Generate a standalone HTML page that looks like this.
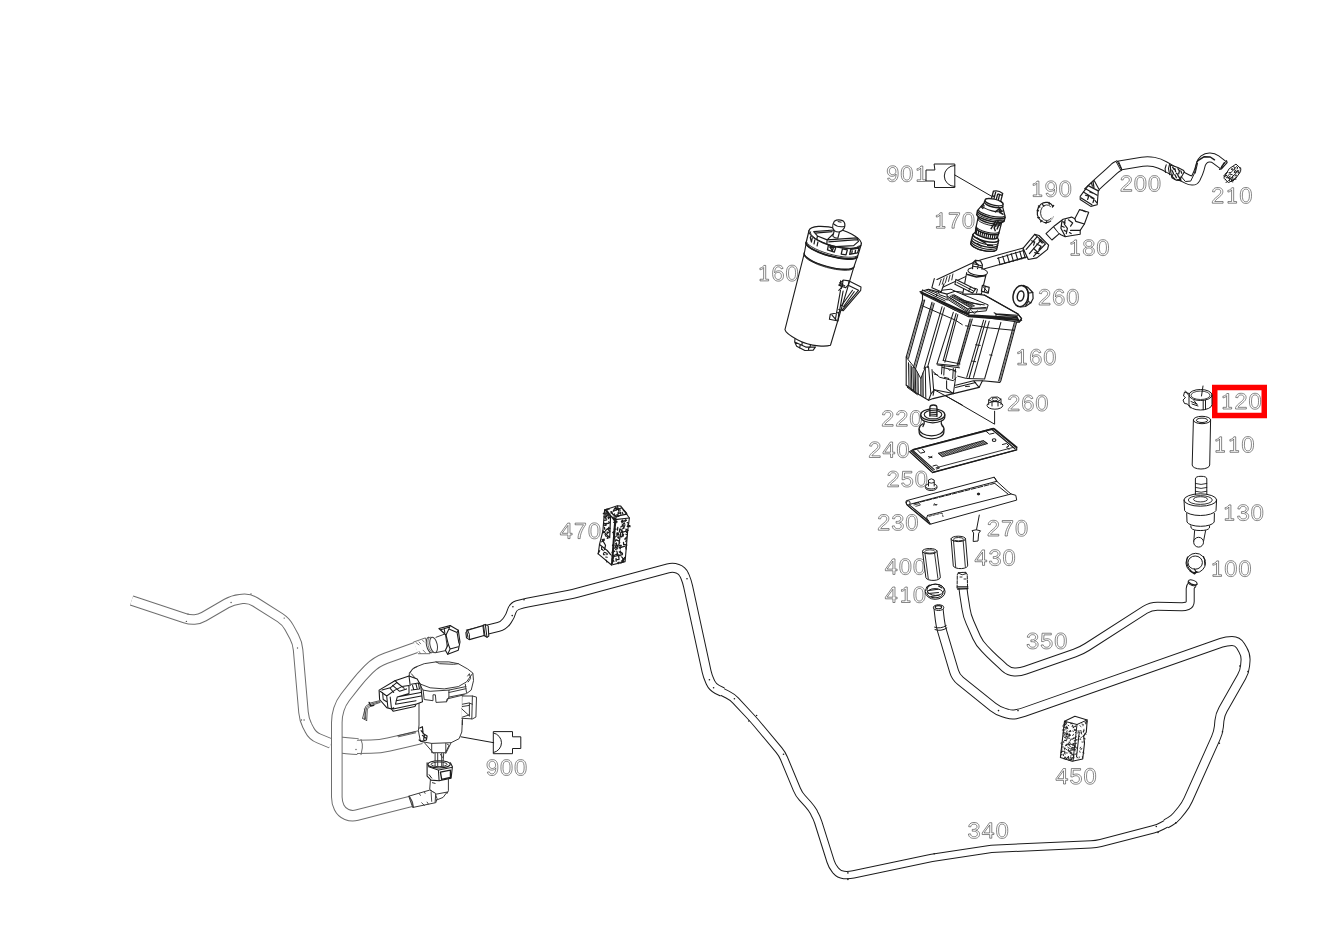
<!DOCTYPE html>
<html><head><meta charset="utf-8"><title>diagram</title>
<style>
html,body{margin:0;padding:0;background:#fff;}
body{width:1326px;height:937px;overflow:hidden;font-family:"Liberation Serif",serif;}
svg{display:block}
.lb{fill:none;stroke:#363636;stroke-width:0.6;vector-effect:non-scaling-stroke;}
</style></head><body>
<svg width="1326" height="937" viewBox="0 0 1326 937">
<rect x="0" y="0" width="1326" height="937" fill="#fff"/>
<defs><path id="g0" d="M1101 -593L1085 -444L1072 -377L1033 -258L978 -158L946 -117L868 -50L777 -5L725 9L611 20L497 9L446 -5L355 -49L278 -116L217 -204L172 -313L154 -376L132 -515L126 -760L141 -912L170 -1042L191 -1100L243 -1197L275 -1238L351 -1302L396 -1327L498 -1359L617 -1370L733 -1359L785 -1345L877 -1302L917 -1272L984 -1196L1012 -1149L1057 -1041L1073 -978L1096 -837ZM919 -745L910 -870L880 -1020L850 -1094L830 -1125L784 -1173L756 -1192L692 -1216L656 -1222L577 -1222L540 -1216L474 -1192L446 -1174L398 -1126L362 -1061L324 -927L311 -811L307 -606L316 -483L347 -334L380 -258L399 -228L447 -178L475 -160L538 -135L574 -129L651 -129L720 -146L751 -161L804 -203L846 -262L891 -383L915 -545Z" class="lb"/><path id="g1" d="M280 0L280 -145L596 -145L596 -1166L578 -1128L551 -1093L493 -1045L395 -995L322 -976L273 -972L273 -1120L326 -1124L377 -1136L475 -1185L556 -1258L611 -1349L777 -1349L777 -145L1031 -145L1031 0Z" class="lb"/><path id="g2" d="M144 0L144 -117L172 -172L227 -254L296 -336L385 -424L652 -650L766 -761L838 -857L860 -902L876 -969L876 -1018L867 -1067L850 -1110L824 -1146L790 -1176L748 -1199L699 -1214L642 -1221L583 -1221L532 -1213L485 -1198L445 -1174L395 -1125L370 -1084L353 -1037L343 -984L159 -1001L175 -1082L223 -1186L298 -1270L362 -1314L436 -1345L519 -1364L663 -1368L758 -1356L841 -1332L912 -1296L971 -1249L1016 -1191L1032 -1158L1055 -1085L1062 -1002L1057 -945L1043 -887L1019 -830L966 -744L891 -657L796 -568L585 -396L474 -296L406 -220L361 -146L1084 -146L1084 0Z" class="lb"/><path id="g3" d="M1093 -430L1097 -325L1081 -242L1068 -205L1028 -138L1003 -109L940 -58L904 -37L822 -6L676 18L569 18L473 6L387 -18L312 -54L249 -103L222 -131L198 -163L160 -234L128 -362L314 -379L327 -320L347 -270L374 -227L409 -192L451 -164L500 -145L557 -133L621 -129L685 -133L742 -145L792 -164L834 -192L868 -227L893 -270L907 -319L912 -376L906 -429L886 -475L855 -515L797 -558L743 -582L660 -602L592 -609L466 -609L466 -765L606 -767L703 -787L785 -828L844 -887L865 -931L875 -997L866 -1070L838 -1130L791 -1176L726 -1207L643 -1221L582 -1221L528 -1213L458 -1188L418 -1161L386 -1127L351 -1065L333 -989L152 -1003L182 -1122L217 -1190L266 -1248L362 -1315L437 -1346L520 -1364L613 -1370L713 -1364L801 -1347L878 -1317L912 -1298L970 -1252L1014 -1196L1031 -1165L1053 -1095L1059 -987L1040 -905L1000 -831L938 -769L860 -722L765 -689L837 -676L901 -654L958 -623L1008 -583L1048 -536L1076 -485Z" class="lb"/><path id="g4" d="M937 0L757 0L757 -319L103 -319L103 -459L738 -1349L937 -1349L937 -461L1125 -461L1125 -319L937 -319ZM257 -461L757 -461L757 -1154Z" class="lb"/><path id="g5" d="M1099 -444L1084 -314L1054 -227L1024 -174L988 -128L921 -69L868 -38L808 -12L744 6L637 19L551 19L462 8L346 -28L281 -66L226 -114L165 -204L128 -315L310 -336L350 -245L378 -209L412 -179L451 -156L547 -130L603 -127L670 -132L757 -160L806 -191L848 -233L891 -310L907 -371L912 -440L900 -527L865 -601L829 -643L784 -678L703 -711L607 -722L536 -716L440 -686L345 -621L169 -621L216 -1349L1017 -1349L1017 -1204L382 -1204L353 -779L449 -834L522 -856L601 -868L741 -862L786 -852L868 -823L906 -803L974 -752L1003 -721L1050 -653L1081 -576L1091 -534Z" class="lb"/><path id="g6" d="M1094 -394L1079 -299L1066 -255L1028 -176L974 -107L943 -77L908 -51L830 -12L787 2L693 18L584 17L530 9L432 -23L389 -47L311 -112L278 -152L222 -248L183 -361L169 -425L153 -565L153 -727L170 -881L203 -1015L252 -1130L318 -1225L356 -1263L397 -1296L490 -1343L542 -1358L655 -1370L731 -1366L800 -1352L861 -1330L915 -1298L962 -1258L1001 -1209L1033 -1150L1057 -1083L885 -1052L870 -1092L828 -1157L770 -1200L696 -1221L653 -1224L581 -1215L548 -1204L488 -1170L462 -1146L415 -1085L363 -965L342 -868L330 -695L357 -738L407 -792L468 -834L538 -862L589 -874L672 -881L763 -874L845 -851L882 -835L950 -790L1007 -732L1051 -662L1067 -624L1089 -540ZM912 -473L894 -566L870 -618L836 -662L795 -697L746 -722L691 -737L629 -742L575 -737L522 -723L473 -700L430 -668L395 -630L369 -585L353 -535L348 -481L353 -408L368 -342L393 -281L428 -227L472 -182L520 -150L575 -131L635 -125L695 -130L749 -146L797 -172L855 -231L884 -281L902 -338L912 -403Z" class="lb"/><path id="g7" d="M1069 -1210L958 -1042L862 -879L781 -721L714 -568L663 -419L626 -274L603 -135L596 0L408 0L416 -134L439 -273L477 -418L530 -568L599 -721L683 -879L781 -1040L895 -1204L158 -1204L158 -1349L1069 -1349Z" class="lb"/><path id="g8" d="M1086 -291L1076 -251L1045 -178L1024 -145L970 -87L937 -62L861 -22L818 -7L723 13L559 18L413 -6L370 -21L294 -60L231 -113L205 -143L165 -210L141 -288L134 -408L153 -495L193 -572L254 -636L328 -681L414 -707L336 -740L271 -785L234 -825L204 -870L176 -944L166 -1024L180 -1118L222 -1202L288 -1273L378 -1326L458 -1353L546 -1367L676 -1367L768 -1353L849 -1326L919 -1287L991 -1221L1038 -1140L1056 -1071L1058 -994L1042 -916L1006 -844L953 -783L887 -739L809 -709L871 -694L926 -671L974 -640L1035 -577L1064 -527L1089 -442L1094 -378ZM902 -452L888 -501L863 -544L829 -580L786 -608L735 -628L677 -640L577 -643L516 -634L463 -617L417 -591L378 -556L349 -516L330 -470L320 -419L320 -358L330 -299L348 -247L377 -204L414 -169L461 -143L516 -125L581 -116L685 -119L744 -132L794 -154L835 -184L879 -246L902 -329L907 -395ZM871 -1039L863 -1088L846 -1129L820 -1165L787 -1193L746 -1214L697 -1228L641 -1235L552 -1232L501 -1222L456 -1204L418 -1179L389 -1147L367 -1109L354 -1064L350 -1012L354 -960L367 -914L389 -874L419 -840L457 -813L502 -794L553 -783L673 -783L726 -794L770 -812L807 -837L835 -870L856 -910L868 -957Z" class="lb"/><path id="g9" d="M1085 -619L1068 -466L1054 -396L1012 -273L985 -218L919 -124L839 -54L744 -7L692 8L577 20L499 16L428 3L366 -19L312 -50L266 -90L227 -140L195 -202L170 -274L342 -301L358 -260L401 -194L428 -169L496 -136L536 -128L617 -127L653 -134L717 -160L746 -179L798 -232L858 -341L896 -480L909 -650L871 -587L817 -535L722 -482L643 -459L559 -451L469 -459L389 -483L317 -523L256 -578L205 -647L170 -725L148 -813L141 -911L149 -1011L172 -1101L212 -1179L266 -1246L335 -1301L415 -1339L507 -1362L610 -1370L722 -1360L819 -1328L901 -1276L968 -1203L1020 -1109L1057 -995L1080 -859ZM890 -901L871 -1008L846 -1069L811 -1124L744 -1185L693 -1210L635 -1222L572 -1223L514 -1212L463 -1190L419 -1157L381 -1114L353 -1064L335 -1008L325 -945L325 -876L335 -812L353 -754L381 -703L419 -660L463 -627L513 -605L571 -594L639 -595L694 -606L762 -637L806 -669L852 -724L876 -772L889 -824Z" class="lb"/></defs>
<path d="M131.6,600.5 L185.0,618.2 Q189.7,619.8 194.6,619.5 L194.6,619.5 Q199.6,619.1 203.9,616.6 L226.7,603.4 Q232.8,599.9 239.8,599.2 L242.4,598.9 Q249.4,598.2 255.3,602.0 L280.0,617.6 Q285.9,621.4 289.2,627.6 L294.2,636.8 Q297.5,643.0 298.1,650.0 L303.5,712.3 Q304.1,719.3 307.2,725.6 L309.3,729.6 Q312.4,735.9 318.9,738.5 L331.0,743.5" fill="none" stroke="#6e6e6e" stroke-width="10.5" stroke-linejoin="round"/>
<path d="M131.6,600.5 L185.0,618.2 Q189.7,619.8 194.6,619.5 L194.6,619.5 Q199.6,619.1 203.9,616.6 L226.7,603.4 Q232.8,599.9 239.8,599.2 L242.4,598.9 Q249.4,598.2 255.3,602.0 L280.0,617.6 Q285.9,621.4 289.2,627.6 L294.2,636.8 Q297.5,643.0 298.1,650.0 L303.5,712.3 Q304.1,719.3 307.2,725.6 L309.3,729.6 Q312.4,735.9 318.9,738.5 L331.0,743.5" fill="none" stroke="#fff" stroke-width="8.5" stroke-linejoin="round"/>
<path d="M337.0,744.6 L347.0,745.7 Q350.0,746.0 353.0,746.2 L358.0,746.6" fill="none" stroke="#6e6e6e" stroke-width="17" stroke-linejoin="round"/>
<path d="M337.0,744.6 L347.0,745.7 Q350.0,746.0 353.0,746.2 L358.0,746.6" fill="none" stroke="#fff" stroke-width="15.0" stroke-linejoin="round"/>
<path d="M357.0,746.8 L371.0,746.7 Q380.0,746.6 388.8,744.5 L388.8,744.5 Q397.5,742.5 406.3,740.5 L421.0,737.0" fill="none" stroke="#6e6e6e" stroke-width="14.3" stroke-linejoin="round"/>
<path d="M357.0,746.8 L371.0,746.7 Q380.0,746.6 388.8,744.5 L388.8,744.5 Q397.5,742.5 406.3,740.5 L421.0,737.0" fill="none" stroke="#fff" stroke-width="12.3" stroke-linejoin="round"/>
<path d="M416.0,647.5 L385.9,658.2 Q376.5,661.5 369.4,668.6 L368.1,669.9 Q361.0,677.0 354.9,684.9 L345.2,697.3 Q341.0,702.7 338.9,709.2 L338.9,709.2 Q336.8,715.7 336.8,722.5 L336.8,796.9 Q336.8,802.5 339.2,807.5 L339.3,807.6 Q341.7,812.5 346.7,814.5 L346.7,814.5 Q351.7,816.6 356.9,815.2 L411.0,801.3" fill="none" stroke="#6e6e6e" stroke-width="11.6" stroke-linejoin="round"/>
<path d="M416.0,647.5 L385.9,658.2 Q376.5,661.5 369.4,668.6 L368.1,669.9 Q361.0,677.0 354.9,684.9 L345.2,697.3 Q341.0,702.7 338.9,709.2 L338.9,709.2 Q336.8,715.7 336.8,722.5 L336.8,796.9 Q336.8,802.5 339.2,807.5 L339.3,807.6 Q341.7,812.5 346.7,814.5 L346.7,814.5 Q351.7,816.6 356.9,815.2 L411.0,801.3" fill="none" stroke="#fff" stroke-width="9.6" stroke-linejoin="round"/>
<path d="M1166.0,823.8 L1170.0,821.6 Q1174.0,819.4 1176.9,815.9 L1181.9,809.8 Q1185.7,805.2 1188.2,799.7 L1215.8,738.0 Q1218.3,732.5 1218.9,726.5 L1219.4,720.8 Q1220.0,714.8 1223.0,709.6 L1241.6,676.8 Q1244.6,671.6 1245.1,665.6 L1245.5,660.9 Q1246.0,654.9 1242.9,649.8 L1240.5,645.7 Q1237.6,640.9 1232.0,640.9 L1232.0,640.9 Q1226.5,640.9 1221.3,642.7 L1024.0,712.1 Q1020.0,713.5 1015.8,714.2 L1015.8,714.2 Q1011.6,714.9 1007.5,713.7 L1003.4,712.4 Q997.7,710.7 993.0,707.0 L960.5,680.9 Q955.8,677.2 954.1,671.4 L942.2,631.4 Q940.5,625.6 939.8,619.6 L938.2,606.0" fill="none" stroke="#1c1c1c" stroke-width="10" stroke-linejoin="round"/>
<path d="M467.0,634.6 L498.5,626.9 Q503.4,625.7 506.3,621.7 L507.4,620.2 Q510.3,616.2 511.6,611.5 L511.6,611.5 Q512.9,606.7 517.6,605.1 L517.7,605.1 Q522.4,603.5 527.3,602.6 L568.1,594.9 Q573.0,594.0 577.8,592.7 L668.0,568.4 Q672.8,567.1 677.5,568.7 L677.6,568.7 Q682.3,570.3 684.2,574.9 L685.1,576.8 Q687.0,581.4 688.1,586.3 L706.6,671.5 Q707.7,676.4 709.8,680.9 L710.6,682.7 Q712.7,687.2 717.2,689.4 L722.5,692.0" fill="none" stroke="#1c1c1c" stroke-width="10" stroke-linejoin="round"/>
<path d="M719.8,690.7 L727.7,694.7 Q732.2,696.9 735.6,700.5 L749.6,715.5 Q753.0,719.1 756.2,722.9 L778.9,750.0 Q782.1,753.8 784.0,758.4 L796.9,789.4 Q798.8,794.0 802.1,797.7 L808.0,804.2 Q811.3,807.9 813.8,812.2 L814.3,813.3 Q816.8,817.6 818.3,822.4 L830.6,861.4 Q832.1,866.2 835.3,870.0 L835.9,870.8 Q839.0,874.5 843.9,875.0 L843.9,875.0 Q848.7,875.4 853.5,874.4 L927.1,858.9 Q932.0,857.9 936.9,857.1 L986.5,849.6 Q991.4,848.8 996.4,848.6 L1091.0,844.4 Q1096.0,844.2 1100.8,843.0 L1153.2,829.4 Q1158.0,828.2 1162.4,825.8 L1168.6,822.4" fill="none" stroke="#1c1c1c" stroke-width="8.4" stroke-linejoin="round"/>
<path d="M1166.0,823.8 L1170.0,821.6 Q1174.0,819.4 1176.9,815.9 L1181.9,809.8 Q1185.7,805.2 1188.2,799.7 L1215.8,738.0 Q1218.3,732.5 1218.9,726.5 L1219.4,720.8 Q1220.0,714.8 1223.0,709.6 L1241.6,676.8 Q1244.6,671.6 1245.1,665.6 L1245.5,660.9 Q1246.0,654.9 1242.9,649.8 L1240.5,645.7 Q1237.6,640.9 1232.0,640.9 L1232.0,640.9 Q1226.5,640.9 1221.3,642.7 L1024.0,712.1 Q1020.0,713.5 1015.8,714.2 L1015.8,714.2 Q1011.6,714.9 1007.5,713.7 L1003.4,712.4 Q997.7,710.7 993.0,707.0 L960.5,680.9 Q955.8,677.2 954.1,671.4 L942.2,631.4 Q940.5,625.6 939.8,619.6 L938.2,606.0" fill="none" stroke="#fff" stroke-width="8.0" stroke-linejoin="round"/>
<path d="M467.0,634.6 L498.5,626.9 Q503.4,625.7 506.3,621.7 L507.4,620.2 Q510.3,616.2 511.6,611.5 L511.6,611.5 Q512.9,606.7 517.6,605.1 L517.7,605.1 Q522.4,603.5 527.3,602.6 L568.1,594.9 Q573.0,594.0 577.8,592.7 L668.0,568.4 Q672.8,567.1 677.5,568.7 L677.6,568.7 Q682.3,570.3 684.2,574.9 L685.1,576.8 Q687.0,581.4 688.1,586.3 L706.6,671.5 Q707.7,676.4 709.8,680.9 L710.6,682.7 Q712.7,687.2 717.2,689.4 L722.5,692.0" fill="none" stroke="#fff" stroke-width="8.0" stroke-linejoin="round"/>
<path d="M719.8,690.7 L727.7,694.7 Q732.2,696.9 735.6,700.5 L749.6,715.5 Q753.0,719.1 756.2,722.9 L778.9,750.0 Q782.1,753.8 784.0,758.4 L796.9,789.4 Q798.8,794.0 802.1,797.7 L808.0,804.2 Q811.3,807.9 813.8,812.2 L814.3,813.3 Q816.8,817.6 818.3,822.4 L830.6,861.4 Q832.1,866.2 835.3,870.0 L835.9,870.8 Q839.0,874.5 843.9,875.0 L843.9,875.0 Q848.7,875.4 853.5,874.4 L927.1,858.9 Q932.0,857.9 936.9,857.1 L986.5,849.6 Q991.4,848.8 996.4,848.6 L1091.0,844.4 Q1096.0,844.2 1100.8,843.0 L1153.2,829.4 Q1158.0,828.2 1162.4,825.8 L1168.6,822.4" fill="none" stroke="#fff" stroke-width="6.4" stroke-linejoin="round"/>
<path d="M962.0,572.5 L962.4,581.0 Q962.8,588.0 963.8,594.9 L966.0,608.9 Q967.0,615.8 969.9,622.2 L976.6,637.3 Q979.5,643.7 984.5,648.6 L989.9,654.1 Q994.9,659.0 1000.1,663.7 L1004.6,667.8 Q1008.8,671.6 1014.4,671.9 L1014.4,671.9 Q1020.0,672.2 1025.3,670.3 L1074.8,653.0 Q1081.4,650.7 1087.3,646.9 L1145.1,609.8 Q1151.0,606.0 1158.0,606.2 L1181.6,606.8 Q1184.6,606.9 1187.4,605.8 L1187.4,605.8 Q1190.2,604.6 1190.2,601.6 L1190.2,588.5 Q1190.2,586.5 1191.6,585.1 L1193.0,583.7" fill="none" stroke="#1c1c1c" stroke-width="9" stroke-linejoin="round"/>
<path d="M962.0,572.5 L962.4,581.0 Q962.8,588.0 963.8,594.9 L966.0,608.9 Q967.0,615.8 969.9,622.2 L976.6,637.3 Q979.5,643.7 984.5,648.6 L989.9,654.1 Q994.9,659.0 1000.1,663.7 L1004.6,667.8 Q1008.8,671.6 1014.4,671.9 L1014.4,671.9 Q1020.0,672.2 1025.3,670.3 L1074.8,653.0 Q1081.4,650.7 1087.3,646.9 L1145.1,609.8 Q1151.0,606.0 1158.0,606.2 L1181.6,606.8 Q1184.6,606.9 1187.4,605.8 L1187.4,605.8 Q1190.2,604.6 1190.2,601.6 L1190.2,588.5 Q1190.2,586.5 1191.6,585.1 L1193.0,583.7" fill="none" stroke="#fff" stroke-width="7.0" stroke-linejoin="round"/>
<path d="M958.0,572.7 L966.0,572.3" stroke="#1c1c1c" stroke-width="1.0" fill="none"/>
<path d="M1190.2,580.9 L1195.8,586.5" stroke="#1c1c1c" stroke-width="1.0" fill="none"/>
<path d="M1180.5,175.6 L1187.7,179.3 Q1189.8,180.4 1192.2,180.5 L1192.2,180.5 Q1194.6,180.6 1195.7,178.5 L1196.4,176.9 Q1198.3,173.2 1199.5,169.2 L1200.8,164.5 Q1201.7,161.5 1204.1,159.4 L1204.1,159.4 Q1206.5,157.4 1209.7,157.5 L1209.9,157.5 Q1213.3,157.6 1216.0,159.6 L1223.1,165.0" fill="none" stroke="#1c1c1c" stroke-width="10.2" stroke-linejoin="round"/>
<path d="M1180.5,175.6 L1187.7,179.3 Q1189.8,180.4 1192.2,180.5 L1192.2,180.5 Q1194.6,180.6 1195.7,178.5 L1196.4,176.9 Q1198.3,173.2 1199.5,169.2 L1200.8,164.5 Q1201.7,161.5 1204.1,159.4 L1204.1,159.4 Q1206.5,157.4 1209.7,157.5 L1209.9,157.5 Q1213.3,157.6 1216.0,159.6 L1223.1,165.0" fill="none" stroke="#fff" stroke-width="8.2" stroke-linejoin="round"/>
<path d="M1225.9,161.3 L1220.3,168.7" stroke="#1c1c1c" stroke-width="1.0" fill="none"/>
<path d="M1118.0,165.7 L1142.2,161.7 Q1148.0,160.8 1153.8,161.9 L1153.8,161.9 Q1159.5,163.1 1164.6,166.0 L1171.1,169.6 Q1174.5,171.5 1177.8,173.8 L1181.0,176.0" fill="none" stroke="#1c1c1c" stroke-width="10.2" stroke-linejoin="round"/>
<path d="M1118.0,165.7 L1142.2,161.7 Q1148.0,160.8 1153.8,161.9 L1153.8,161.9 Q1159.5,163.1 1164.6,166.0 L1171.1,169.6 Q1174.5,171.5 1177.8,173.8 L1181.0,176.0" fill="none" stroke="#fff" stroke-width="8.2" stroke-linejoin="round"/>
<path d="M1088.0,193.0 L1093.3,187.9 Q1097.3,184.0 1101.5,180.2 L1101.5,180.2 Q1105.7,176.5 1109.9,172.7 L1114.5,168.5 Q1116.0,167.2 1117.8,166.3 L1119.5,165.4" fill="none" stroke="#1c1c1c" stroke-width="11.6" stroke-linejoin="round"/>
<path d="M1088.0,193.0 L1093.3,187.9 Q1097.3,184.0 1101.5,180.2 L1101.5,180.2 Q1105.7,176.5 1109.9,172.7 L1114.5,168.5 Q1116.0,167.2 1117.8,166.3 L1119.5,165.4" fill="none" stroke="#fff" stroke-width="9.6" stroke-linejoin="round"/>
<path d="M1117.1,160.7 L1121.9,170.1" stroke="#1c1c1c" stroke-width="1.0" fill="none"/>
<rect x="1214.75" y="387.5" width="49.5" height="28" fill="#fff" stroke="#ff0000" stroke-width="5.5"/>
<use href="#g9" transform="translate(885.68 181.50) scale(0.011475)"/>
<use href="#g0" transform="translate(899.78 181.50) scale(0.011475)"/>
<use href="#g1" transform="translate(913.88 181.50) scale(0.011475)"/>
<use href="#g1" transform="translate(933.20 228.20) scale(0.011475)"/>
<use href="#g7" transform="translate(947.30 228.20) scale(0.011475)"/>
<use href="#g0" transform="translate(961.40 228.20) scale(0.011475)"/>
<use href="#g1" transform="translate(1030.00 196.60) scale(0.011475)"/>
<use href="#g9" transform="translate(1044.10 196.60) scale(0.011475)"/>
<use href="#g0" transform="translate(1058.20 196.60) scale(0.011475)"/>
<use href="#g2" transform="translate(1119.25 191.30) scale(0.011475)"/>
<use href="#g0" transform="translate(1133.35 191.30) scale(0.011475)"/>
<use href="#g0" transform="translate(1147.45 191.30) scale(0.011475)"/>
<use href="#g2" transform="translate(1210.65 203.20) scale(0.011475)"/>
<use href="#g1" transform="translate(1224.75 203.20) scale(0.011475)"/>
<use href="#g0" transform="translate(1238.85 203.20) scale(0.011475)"/>
<use href="#g1" transform="translate(1067.70 255.40) scale(0.011475)"/>
<use href="#g8" transform="translate(1081.80 255.40) scale(0.011475)"/>
<use href="#g0" transform="translate(1095.90 255.40) scale(0.011475)"/>
<use href="#g1" transform="translate(756.80 280.90) scale(0.011475)"/>
<use href="#g6" transform="translate(770.90 280.90) scale(0.011475)"/>
<use href="#g0" transform="translate(785.00 280.90) scale(0.011475)"/>
<use href="#g2" transform="translate(1037.55 305.00) scale(0.011475)"/>
<use href="#g6" transform="translate(1051.65 305.00) scale(0.011475)"/>
<use href="#g0" transform="translate(1065.75 305.00) scale(0.011475)"/>
<use href="#g1" transform="translate(1014.60 364.90) scale(0.011475)"/>
<use href="#g6" transform="translate(1028.70 364.90) scale(0.011475)"/>
<use href="#g0" transform="translate(1042.80 364.90) scale(0.011475)"/>
<use href="#g2" transform="translate(1006.65 410.80) scale(0.011475)"/>
<use href="#g6" transform="translate(1020.75 410.80) scale(0.011475)"/>
<use href="#g0" transform="translate(1034.85 410.80) scale(0.011475)"/>
<use href="#g2" transform="translate(880.65 426.20) scale(0.011475)"/>
<use href="#g2" transform="translate(894.75 426.20) scale(0.011475)"/>
<use href="#g0" transform="translate(908.85 426.20) scale(0.011475)"/>
<use href="#g2" transform="translate(867.75 457.50) scale(0.011475)"/>
<use href="#g4" transform="translate(881.85 457.50) scale(0.011475)"/>
<use href="#g0" transform="translate(895.95 457.50) scale(0.011475)"/>
<use href="#g2" transform="translate(886.05 486.80) scale(0.011475)"/>
<use href="#g5" transform="translate(900.15 486.80) scale(0.011475)"/>
<use href="#g0" transform="translate(914.25 486.80) scale(0.011475)"/>
<use href="#g2" transform="translate(876.65 530.20) scale(0.011475)"/>
<use href="#g3" transform="translate(890.75 530.20) scale(0.011475)"/>
<use href="#g0" transform="translate(904.85 530.20) scale(0.011475)"/>
<use href="#g2" transform="translate(986.35 536.00) scale(0.011475)"/>
<use href="#g7" transform="translate(1000.45 536.00) scale(0.011475)"/>
<use href="#g0" transform="translate(1014.55 536.00) scale(0.011475)"/>
<use href="#g4" transform="translate(973.82 565.40) scale(0.011475)"/>
<use href="#g3" transform="translate(987.92 565.40) scale(0.011475)"/>
<use href="#g0" transform="translate(1002.02 565.40) scale(0.011475)"/>
<use href="#g4" transform="translate(884.22 574.40) scale(0.011475)"/>
<use href="#g0" transform="translate(898.32 574.40) scale(0.011475)"/>
<use href="#g0" transform="translate(912.42 574.40) scale(0.011475)"/>
<use href="#g4" transform="translate(884.22 602.50) scale(0.011475)"/>
<use href="#g1" transform="translate(898.32 602.50) scale(0.011475)"/>
<use href="#g0" transform="translate(912.42 602.50) scale(0.011475)"/>
<use href="#g1" transform="translate(1219.80 409.00) scale(0.011475)"/>
<use href="#g2" transform="translate(1233.90 409.00) scale(0.011475)"/>
<use href="#g0" transform="translate(1248.00 409.00) scale(0.011475)"/>
<use href="#g1" transform="translate(1212.70 452.30) scale(0.011475)"/>
<use href="#g1" transform="translate(1226.80 452.30) scale(0.011475)"/>
<use href="#g0" transform="translate(1240.90 452.30) scale(0.011475)"/>
<use href="#g1" transform="translate(1222.00 520.40) scale(0.011475)"/>
<use href="#g3" transform="translate(1236.10 520.40) scale(0.011475)"/>
<use href="#g0" transform="translate(1250.20 520.40) scale(0.011475)"/>
<use href="#g1" transform="translate(1209.70 576.40) scale(0.011475)"/>
<use href="#g0" transform="translate(1223.80 576.40) scale(0.011475)"/>
<use href="#g0" transform="translate(1237.90 576.40) scale(0.011475)"/>
<use href="#g3" transform="translate(1025.53 648.70) scale(0.011475)"/>
<use href="#g5" transform="translate(1039.63 648.70) scale(0.011475)"/>
<use href="#g0" transform="translate(1053.73 648.70) scale(0.011475)"/>
<use href="#g3" transform="translate(966.93 838.20) scale(0.011475)"/>
<use href="#g4" transform="translate(981.03 838.20) scale(0.011475)"/>
<use href="#g0" transform="translate(995.13 838.20) scale(0.011475)"/>
<use href="#g4" transform="translate(1054.82 784.00) scale(0.011475)"/>
<use href="#g5" transform="translate(1068.92 784.00) scale(0.011475)"/>
<use href="#g0" transform="translate(1083.02 784.00) scale(0.011475)"/>
<use href="#g4" transform="translate(559.22 538.60) scale(0.011475)"/>
<use href="#g7" transform="translate(573.32 538.60) scale(0.011475)"/>
<use href="#g0" transform="translate(587.42 538.60) scale(0.011475)"/>
<use href="#g9" transform="translate(485.38 775.30) scale(0.011475)"/>
<use href="#g0" transform="translate(499.48 775.30) scale(0.011475)"/>
<use href="#g0" transform="translate(513.58 775.30) scale(0.011475)"/>
<ellipse cx="1200.5" cy="395" rx="11.5" ry="5.5" fill="none" stroke="#1c1c1c" stroke-width="1.0"/>
<ellipse cx="1200.5" cy="395.3" rx="9.5" ry="4.2" fill="none" stroke="#1c1c1c" stroke-width="0.8"/>
<path d="M1189,395 L1189,404.5 A11.5,5.5 0 0 0 1212,404.5 L1212,395" fill="none" stroke="#1c1c1c" stroke-width="1.0" stroke-linejoin="round" stroke-linecap="round" />
<path d="M1203.2,400.3 L1203.2,409.8 M1205.5,400.2 L1205.5,409.5 M1203,386 L1201.5,396" fill="none" stroke="#1c1c1c" stroke-width="1.0" stroke-linejoin="round" stroke-linecap="round" />
<path d="M1189,393.5 l-4.5,-1.5 l-1,4 l2,1.5 l-2.5,2.5 l1.5,3.5 l3,0.5 l3,4 M1185.5,391 l2.5,3.5 M1191,401.5 l6,2.5 M1192,404 l6,2 M1194,400.5 l3,4" fill="none" stroke="#1c1c1c" stroke-width="1.0" stroke-linejoin="round" stroke-linecap="round" />
<ellipse cx="1202" cy="420" rx="8.6" ry="3.7" fill="none" stroke="#1c1c1c" stroke-width="1.0"/>
<ellipse cx="1202" cy="420.3" rx="5.6" ry="2.2" fill="none" stroke="#1c1c1c" stroke-width="1.0"/>
<path d="M1193.4,420 L1192.2,465 A8.7,4 0 0 0 1209.7,465 L1210.6,420" fill="none" stroke="#1c1c1c" stroke-width="1.0" stroke-linejoin="round" stroke-linecap="round" />
<path d="M1195.4,494.5 L1195.4,479 Q1195.4,476.3 1201,476.3 Q1206.8,476.3 1206.8,479 L1206.8,494.5" fill="none" stroke="#1c1c1c" stroke-width="1.0" stroke-linejoin="round" stroke-linecap="round" />
<path d="M1195.4,483.5 q5.7,2 11.4,0 M1195.4,487.5 q5.7,2 11.4,0 M1195.4,491.3 q5.7,2 11.4,0" fill="none" stroke="#1c1c1c" stroke-width="0.9" stroke-linejoin="round" stroke-linecap="round" />
<ellipse cx="1200.3" cy="500" rx="16.3" ry="6.2" fill="none" stroke="#1c1c1c" stroke-width="1.0"/>
<ellipse cx="1200.3" cy="500" rx="12" ry="4.4" fill="none" stroke="#1c1c1c" stroke-width="0.9"/>
<ellipse cx="1200.5" cy="499.3" rx="7" ry="2.6" fill="none" stroke="#1c1c1c" stroke-width="0.9"/>
<path d="M1184,500 L1184.6,510.5 A16,6.2 0 0 0 1216,510.5 L1216.6,500" fill="none" stroke="#1c1c1c" stroke-width="1.0" stroke-linejoin="round" stroke-linecap="round" />
<path d="M1186.7,513.5 L1187,522 A13.8,5.2 0 0 0 1214.2,522 L1214.4,513.5" fill="none" stroke="#1c1c1c" stroke-width="1.0" stroke-linejoin="round" stroke-linecap="round" />
<path d="M1190.8,525.8 L1191.2,528 A9.3,3.2 0 0 0 1209.4,528 L1209.6,525.8" fill="none" stroke="#1c1c1c" stroke-width="1.0" stroke-linejoin="round" stroke-linecap="round" />
<path d="M1194.6,530.6 L1193.8,541.5 M1205.6,530.6 L1203.6,541" fill="none" stroke="#1c1c1c" stroke-width="1.0" stroke-linejoin="round" stroke-linecap="round" />
<ellipse cx="1198.6" cy="542.2" rx="4.9" ry="4.9" fill="#fff" stroke="#1c1c1c" stroke-width="1.0"/>
<ellipse cx="1195.7" cy="563" rx="9.7" ry="9.7" fill="none" stroke="#1c1c1c" stroke-width="1.0"/>
<ellipse cx="1195.2" cy="562.6" rx="7.2" ry="6.6" fill="none" stroke="#1c1c1c" stroke-width="1.0"/>
<path d="M1187.5,557 q-2,6 1.5,11.5 l4,4.5 l3,-1 l-1.5,-3 M1190,571 l4.5,3 l2.5,-2.5 M1203.5,556.5 l1.5,4 M1204.5,561 l0.5,4" fill="none" stroke="#1c1c1c" stroke-width="1.1" stroke-linejoin="round" stroke-linecap="round" />
<ellipse cx="1192.6" cy="582.8" rx="4.6" ry="2.6" fill="#fff" stroke="#1c1c1c" stroke-width="1.0" transform="rotate(20 1192.6 582.8)"/>
<path d="M1188.5,582 q4,4 8.5,2.2" fill="none" stroke="#1c1c1c" stroke-width="1.2" stroke-linejoin="round" stroke-linecap="round" />
<path d="M934.5,164 L954.8,164 L954.8,187.5 L934.5,187.5 L934.5,181 L926,181 L926,170 L934.5,170 Z" fill="none" stroke="#1c1c1c" stroke-width="1.0" stroke-linejoin="round" stroke-linecap="round" />
<path d="M954.8,165.5 A10.5,10.5 0 0 0 954.8,186.5" fill="none" stroke="#1c1c1c" stroke-width="1.0" stroke-linejoin="round" stroke-linecap="round" />
<path d="M954.8,175 L992,196.5" fill="none" stroke="#1c1c1c" stroke-width="1.0" stroke-linejoin="round" stroke-linecap="round" />
<path d="M493.7,731.6 L512.5,731.6 L512.5,736.8 L520.8,736.8 L520.8,748.5 L512.5,748.5 L512.5,753.7 L493.7,753.7 Z" fill="none" stroke="#1c1c1c" stroke-width="1.0" stroke-linejoin="round" stroke-linecap="round" />
<path d="M493.7,733 A10,10 0 0 1 493.7,752.5" fill="none" stroke="#1c1c1c" stroke-width="1.0" stroke-linejoin="round" stroke-linecap="round" />
<path d="M460.9,736.8 L493.7,742.7" fill="none" stroke="#1c1c1c" stroke-width="1.0" stroke-linejoin="round" stroke-linecap="round" />
<path d="M913.2,449.4 L993.1,428.3 L1016.7,447.9 L1016.7,449.9 L932.4,472.5 L909.8,451.9 Z" fill="#fff" stroke="#1c1c1c" stroke-width="1.0" stroke-linejoin="round" stroke-linecap="round" />
<path d="M913.6,449.8 L993,428.9" fill="none" stroke="#1c1c1c" stroke-width="1.7" stroke-linejoin="round" stroke-linecap="round" />
<path d="M1012.5,447.6 L936,467.8" fill="none" stroke="#1c1c1c" stroke-width="0.9" stroke-linejoin="round" stroke-linecap="round" />
<path d="M993.1,428.3 L1016.7,447.9 M994.5,428.6 L1017,447.2 M992,429.5 L1015,448.8" fill="none" stroke="#1c1c1c" stroke-width="1.2" stroke-linejoin="round" stroke-linecap="round" />
<path d="M909.8,451.9 L931.4,471.5 M911.3,451 L933,470.6 M912.6,450.3 L934.3,469.6" fill="none" stroke="#1c1c1c" stroke-width="1.2" stroke-linejoin="round" stroke-linecap="round" />
<path d="M1016.7,449.9 L932.4,472.5" fill="none" stroke="#1c1c1c" stroke-width="1.3" stroke-linejoin="round" stroke-linecap="round" />
<path d="M938.2,453.3 L983.3,440.6 L987.7,443.5 L942.2,456.8 Z" fill="#9a9a9a" stroke="#1c1c1c" stroke-width="0.9"/>
<path d="M938.8,453.3l3.6,3.0M940.7,452.7l3.6,3.0M942.7,452.2l3.6,3.0M944.6,451.6l3.6,3.0M946.5,451.1l3.6,3.0M948.5,450.5l3.6,3.0M950.4,450.0l3.6,3.0M952.3,449.4l3.6,3.0M954.3,448.9l3.6,3.0M956.2,448.3l3.6,3.0M958.1,447.8l3.6,3.0M960.1,447.2l3.6,3.0M962.0,446.7l3.6,3.0M964.0,446.1l3.6,3.0M965.9,445.6l3.6,3.0M967.8,445.0l3.6,3.0M969.8,444.5l3.6,3.0M971.7,443.9l3.6,3.0M973.6,443.4l3.6,3.0M975.6,442.8l3.6,3.0M977.5,442.3l3.6,3.0M979.4,441.7l3.6,3.0M981.4,441.2l3.6,3.0M983.3,440.6l3.6,3.0" fill="none" stroke="#1c1c1c" stroke-width="0.8" stroke-linejoin="round" stroke-linecap="round" />
<path d="M917.5,450 l3,3.2 l4.5,-1.2 l-2.5,-2.8 M986,431.2 l3.5,3 l4.5,-1 M1002.5,444.5 l4,-1 l2.5,2.5 l-2.5,1 l2.5,2.5 M933,466 l3.5,-1 l3,3 l-3,1" fill="none" stroke="#1c1c1c" stroke-width="1.0" stroke-linejoin="round" stroke-linecap="round" />
<ellipse cx="994.1" cy="440.1" rx="1.8" ry="1.4" fill="none" stroke="#1c1c1c" stroke-width="1.1"/>
<path d="M928.5,456.6 l3.5,1 M929,458 l3,-1.6" fill="none" stroke="#1c1c1c" stroke-width="1.0" stroke-linejoin="round" stroke-linecap="round" />
<path d="M919.1,428.8 L919.1,431.9 A12.4,7 0 0 0 943.9,431.9 L943.9,428.8 Z" fill="#fff" stroke="#1c1c1c" stroke-width="1.2" stroke-linejoin="round" stroke-linecap="round" />
<ellipse cx="931.5" cy="428.8" rx="12.4" ry="7" fill="#fff" stroke="#1c1c1c" stroke-width="1.2"/>
<path d="M923.6,419 L941.8,419 L942.4,427.2 L922.8,427.2 Z" fill="#fff" stroke="none"/>
<path d="M924.2,420 Q924.8,424 922.9,426.6 M941.3,420 Q940.7,424 942.4,426.4" fill="none" stroke="#1c1c1c" stroke-width="1.2" stroke-linejoin="round" stroke-linecap="round" />
<path d="M920.8,414.7 L920.8,416.9 A12,5.9 0 0 0 944.8,416.9 L944.8,414.7 Z" fill="#fff" stroke="#1c1c1c" stroke-width="1.2" stroke-linejoin="round" stroke-linecap="round" />
<ellipse cx="932.8" cy="414.7" rx="12" ry="5.9" fill="#fff" stroke="#1c1c1c" stroke-width="1.2"/>
<ellipse cx="933" cy="414.6" rx="8.8" ry="4.3" fill="none" stroke="#1c1c1c" stroke-width="1.1"/>
<path d="M929.9,416 L929.9,407.5 Q929.9,405 933.4,405 Q936.9,405 936.9,407.5 L936.9,416.3" fill="#fff" stroke="#1c1c1c" stroke-width="1.3" stroke-linejoin="round" stroke-linecap="round" />
<path d="M929.9,408.7 l7,0.4 M929.9,410.5 l7,0.4 M929.9,412.3 l7,0.4 M929.9,414.1 l7,0.4 M929.9,415.8 l7,0.4" fill="none" stroke="#1c1c1c" stroke-width="1.0" stroke-linejoin="round" stroke-linecap="round" />
<ellipse cx="994.9" cy="405.4" rx="7.9" ry="3.8" fill="#fff" stroke="#1c1c1c" stroke-width="1.0"/>
<path d="M988.7,404.5 L988.7,399.8 L991.5,397.3 L997.5,397 L1001,399.2 L1001,404.5 M988.7,399.8 L992,401.6 L998,401.4 L1001,399.2 M992,401.6 L992,406 M998,401.4 L998,406" fill="none" stroke="#1c1c1c" stroke-width="1.0" stroke-linejoin="round" stroke-linecap="round" />
<ellipse cx="994.8" cy="399.3" rx="2.8" ry="1.5" fill="none" stroke="#1c1c1c" stroke-width="0.9"/>
<path d="M994.6,411.2 L994.6,423.9 M946.1,396 L994.1,423.9" fill="none" stroke="#1c1c1c" stroke-width="1.0" stroke-linejoin="round" stroke-linecap="round" />
<path d="M1023.1,285.3 L1027.9,287.4 L1032.8,292.5 L1033.1,298.5 L1030.9,302.8 L1025.5,306.5 L1020.7,306.9" fill="#fff" stroke="#1c1c1c" stroke-width="1.2" stroke-linejoin="round" stroke-linecap="round" />
<ellipse cx="1020.7" cy="296.1" rx="7.6" ry="10.6" fill="#fff" stroke="#1c1c1c" stroke-width="1.5" transform="rotate(10 1020.7 296.1)"/>
<ellipse cx="1020.6" cy="296.0" rx="3.2" ry="5.1" fill="none" stroke="#1c1c1c" stroke-width="1.5" transform="rotate(12 1020.6 296.0)"/>
<path d="M1028.2,293.1 L1028.2,301.5M1028.2,293.1 L1032.8,292.5M1028.2,301.5 L1030.9,302.8M1026.1,287.1 L1028.2,293.1M1028.2,301.5 L1025.8,305.5" fill="none" stroke="#1c1c1c" stroke-width="1.1" stroke-linejoin="round" stroke-linecap="round" />
<ellipse cx="931.2" cy="487.6" rx="5.8" ry="2.9" fill="#fff" stroke="#1c1c1c" stroke-width="1.0"/>
<ellipse cx="931.2" cy="486.3" rx="5.8" ry="2.7" fill="#fff" stroke="#1c1c1c" stroke-width="1.0"/>
<path d="M928.5,486 L928.5,480 Q931.3,477.6 934.2,480 L934.2,486" fill="#fff" stroke="#1c1c1c" stroke-width="1.0" stroke-linejoin="round" stroke-linecap="round" />
<path d="M928.5,482.5 q2.8,1.5 5.7,0" fill="none" stroke="#1c1c1c" stroke-width="0.9" stroke-linejoin="round" stroke-linecap="round" />
<path d="M906.7,500.6 L994.3,477.2 L996.8,481.3 L1008.0,491.5 L1011.1,494.0 L1015.8,495.3 L1016.7,500.1 L930.6,524.1 L907.2,505.2 L906.0,503.0 Z" fill="#fff" stroke="#1c1c1c" stroke-width="1.0" stroke-linejoin="round" stroke-linecap="round" />
<path d="M910.3,504.2 L996.8,481.3 M994.3,477.2 L996.8,481.3 M995.3,483.8 L1008,494" fill="none" stroke="#1c1c1c" stroke-width="1.0" stroke-linejoin="round" stroke-linecap="round" />
<path d="M913.8,503.7 L994.8,483.3" fill="none" stroke="#1c1c1c" stroke-width="1.0" stroke-linejoin="round" stroke-linecap="round" stroke-dasharray="5 1.6"/>
<path d="M927.6,515.4 L1011.1,494 M927.6,515.4 L926.6,518 L930.6,524.1" fill="none" stroke="#1c1c1c" stroke-width="1.0" stroke-linejoin="round" stroke-linecap="round" />
<path d="M907.2,505.2 L929.6,524.1 M909,504.6 L928.5,521 M910.5,505.8 L927,519.5" fill="none" stroke="#1c1c1c" stroke-width="1.1" stroke-linejoin="round" stroke-linecap="round" />
<ellipse cx="908.2" cy="503" rx="1.9" ry="2.2" fill="none" stroke="#1c1c1c" stroke-width="1.0"/>
<ellipse cx="978.5" cy="494" rx="1.3" ry="0.9" fill="#1c1c1c" stroke="#1c1c1c" stroke-width="1.0"/>
<path d="M933.5,505 l3.5,-0.5 M934.5,503.6 l1.5,1.8" fill="none" stroke="#1c1c1c" stroke-width="0.9" stroke-linejoin="round" stroke-linecap="round" />
<path d="M929,516.3 L942,513 L943,516.5" fill="none" stroke="#1c1c1c" stroke-width="0.9" stroke-linejoin="round" stroke-linecap="round" stroke-dasharray="2.5 1.5"/>
<path d="M914,505 l5.5,-1.5 l0.8,1.6 l-4.5,1.2" fill="none" stroke="#1c1c1c" stroke-width="0.8" stroke-linejoin="round" stroke-linecap="round" />
<path d="M979.3,515.1 L976.5,529.7" fill="none" stroke="#1c1c1c" stroke-width="1.0" stroke-linejoin="round" stroke-linecap="round" />
<path d="M972.4,530.5 Q976,528.8 980.5,530.8 L978.7,533.2 L978,541 L973.2,541.5 L973.6,533.3 Z" fill="#fff" stroke="#1c1c1c" stroke-width="1.0" stroke-linejoin="round" stroke-linecap="round" />
<path d="M951.0999999999999,538.9 L953.3,565.9 A7.2,3.1 0 0 0 967.7,565.1 L965.5,538.4" fill="#fff" stroke="#1c1c1c" stroke-width="1.0" stroke-linejoin="round" stroke-linecap="round" />
<ellipse cx="958.3" cy="538.9" rx="7.2" ry="2.7" fill="#fff" stroke="#1c1c1c" stroke-width="1.0"/>
<ellipse cx="958.5" cy="539.1999999999999" rx="5.0" ry="1.7000000000000002" fill="none" stroke="#1c1c1c" stroke-width="0.9"/>
<path d="M953.4999999999999,540.5 L955.6999999999999,567.1 M963.1,540.3 L965.3000000000001,566.5" fill="none" stroke="#1c1c1c" stroke-width="0.9" stroke-linejoin="round" stroke-linecap="round" />
<path d="M922.5,551.2 L925.9,577.7 A7.2,3.1 0 0 0 940.3000000000001,576.9000000000001 L936.9000000000001,550.7" fill="#fff" stroke="#1c1c1c" stroke-width="1.0" stroke-linejoin="round" stroke-linecap="round" />
<ellipse cx="929.7" cy="551.2" rx="7.2" ry="2.7" fill="#fff" stroke="#1c1c1c" stroke-width="1.0"/>
<ellipse cx="929.9000000000001" cy="551.5" rx="5.0" ry="1.7000000000000002" fill="none" stroke="#1c1c1c" stroke-width="0.9"/>
<path d="M924.9,552.8000000000001 L928.3,578.9000000000001 M934.5000000000001,552.6 L937.9000000000001,578.3000000000001" fill="none" stroke="#1c1c1c" stroke-width="0.9" stroke-linejoin="round" stroke-linecap="round" />
<ellipse cx="935.2" cy="591.7" rx="9.9" ry="7.6" fill="#fff" stroke="#1c1c1c" stroke-width="1.0"/>
<ellipse cx="935.6" cy="589.8" rx="8.6" ry="5.6" fill="none" stroke="#1c1c1c" stroke-width="1.0"/>
<ellipse cx="935" cy="593.2" rx="8" ry="4.6" fill="none" stroke="#1c1c1c" stroke-width="1.0"/>
<path d="M929,590.5 l9,-1.2 M928.5,593.5 l10,-1 M931,596.5 l8,-1.3 M938.5,586 l3.5,2 M926.5,587.5 l3,-2.5" fill="none" stroke="#1c1c1c" stroke-width="1.1" stroke-linejoin="round" stroke-linecap="round" />
<path d="M957.1,588 L957.3,574.5 Q961.5,570.5 967.2,574 L967.6,588" fill="#fff" stroke="#1c1c1c" stroke-width="1.0" stroke-linejoin="round" stroke-linecap="round" stroke-dasharray="3 1.3"/>
<path d="M957.3,586.9 L967.8,586.9 M957.6,589 L967.9,588.6" fill="none" stroke="#1c1c1c" stroke-width="1.3" stroke-linejoin="round" stroke-linecap="round" />
<path d="M959,573.5 q3,2.5 6.5,0.5 M960,577 l2,0 M964,579 l2,0" fill="none" stroke="#1c1c1c" stroke-width="0.9" stroke-linejoin="round" stroke-linecap="round" />
<ellipse cx="938.6" cy="607.6" rx="5.2" ry="2.9" fill="#fff" stroke="#1c1c1c" stroke-width="1.0"/>
<ellipse cx="938.4" cy="607.2" rx="3.2" ry="1.6" fill="none" stroke="#1c1c1c" stroke-width="1.1"/>
<path d="M604.6,509.9 L617.4,505.7 L620.8,506.1 L629.4,518.0 L627.7,530.8 L625.1,561.6 L611.5,565.0 L598.2,553.9 L599.5,544.5 L602.9,530.8 Z" fill="#fff" stroke="#1c1c1c" stroke-width="1.1" stroke-linejoin="round" stroke-linecap="round" />
<path d="M604.6,509.9 L614.9,519.7 L629.4,518.0M614.9,519.7 L614.0,530.8 L611.5,565.0M615.7,520.6 L614.9,530.8 L612.5,563.3M613.2,511.2 L621.7,507.8M615.7,516.3 L626.8,514.2M606.3,509.5 L610.6,515.5 L609.7,537.7M599.5,544.5 L607.2,550.5 L610.6,554.7M602.9,530.8 L609.7,537.7M610.6,515.5 L614.4,520.6M617.4,506.1 L619.1,512.1 L616.6,517.2M621.7,507.8 L626.8,513.3M602.1,539.4 L605.5,545.3 L604.6,549.6M627.7,530.8 L620.8,532.5 L619.1,542.8M625.1,546.2 L619.1,547.9M622.5,554.7 L614.0,556.4" fill="none" stroke="#1c1c1c" stroke-width="1.2" stroke-linejoin="round" stroke-linecap="round" />
<path d="M615.7,543.6l0.9,2.1M622.7,521.1l2.8,0.1M616.1,529.0l-2.0,0.0M626.4,540.4l-0.6,1.2M622.8,558.8l-0.2,2.6M623.5,521.0l-1.7,1.6M624.3,559.3l-1.9,2.4M618.5,555.6l0.5,3.0M627.2,522.6l1.3,0.6M622.7,532.2l-0.0,1.8M617.7,545.5l-0.8,2.9M623.7,561.6l-2.9,1.4M623.5,525.7l-2.8,1.3M624.2,527.9l-2.0,1.1M616.6,521.0l-2.8,1.4M613.0,555.6l0.4,1.3M616.7,554.1l-1.0,0.4M622.5,520.1l-1.1,1.3M617.0,521.6l-0.3,1.0M615.0,537.2l-0.5,1.3M612.2,558.8l1.7,2.6M619.7,542.4l-1.0,2.1M621.5,547.1l-2.1,0.4M619.2,551.8l1.2,1.1M618.9,545.3l2.4,0.1M622.8,520.9l-0.8,1.9M623.6,534.6l-1.6,2.1M616.0,539.5l-0.5,1.6M618.0,532.7l0.9,2.1M616.8,535.7l-0.8,0.7M621.7,552.5l0.8,1.2M625.9,529.2l1.6,1.1M624.0,522.8l0.9,1.5M626.4,538.6l-1.2,0.6M617.5,548.6l-1.9,0.7M615.5,523.7l-0.1,1.4M614.7,531.1l-2.0,1.4M625.9,534.2l1.5,0.7M625.7,530.8l0.9,1.7M619.0,537.3l-1.3,0.3M619.2,562.6l-1.5,0.3M624.8,557.3l-1.0,1.9M616.6,534.0l0.9,0.8M622.0,531.5l-0.9,0.6M614.5,532.1l-1.1,1.9M618.9,562.1l-0.6,1.6M616.0,558.5l0.2,2.7M617.8,527.3l-0.3,2.8M614.5,555.2l-2.7,0.7M622.7,558.5l1.6,0.2M616.3,542.8l0.5,2.0M617.1,532.8l1.1,2.2M622.0,535.0l1.4,1.0M613.7,544.1l-1.2,1.4M618.1,546.4l-1.4,1.2M625.8,547.3l0.4,1.8M620.3,551.0l0.6,2.4M619.7,529.5l-0.3,2.5M619.1,559.3l-1.8,0.4M616.1,539.8l2.6,1.1M623.3,559.7l-2.0,1.5M624.6,544.5l2.2,0.7M625.3,520.1l1.2,0.3M627.2,526.4l2.8,0.2M613.6,557.6l-1.5,2.4M625.8,519.7l-1.6,1.4M624.3,523.0l-2.2,2.2M621.6,556.9l1.0,1.0M615.9,546.9l-1.3,1.3M618.0,536.7l0.9,1.7M624.8,525.6l-1.5,2.2M623.5,542.3l0.1,2.4M627.5,525.0l2.5,0.8M619.4,551.8l1.3,0.9M615.0,545.5l0.8,1.3M616.8,551.1l0.8,2.8M621.9,530.6l0.8,0.7M620.0,536.0l1.5,0.9M617.2,554.4l2.9,1.4M620.0,546.1l0.3,2.8M626.2,544.2l0.2,2.6M626.8,536.8l-2.1,2.3M619.8,528.8l1.9,1.7M626.8,529.4l1.3,0.9M614.8,551.1l-2.7,1.3" fill="none" stroke="#1c1c1c" stroke-width="1.25" stroke-linejoin="round" stroke-linecap="round" />
<path d="M605.4,515.0l1.8,0.4M608.6,517.2l-0.2,1.5M603.9,540.4l-2.2,1.3M608.9,516.3l1.3,1.9M608.3,538.0l-1.1,0.4M607.2,532.0l-0.0,1.4M606.1,512.9l-2.7,0.6M606.7,519.8l-2.1,0.6M606.4,523.5l-0.6,1.8M604.5,527.5l0.2,1.7M605.6,516.6l-0.6,1.4M605.1,534.5l1.1,1.8M608.6,530.1l1.2,1.1M603.6,525.0l2.4,0.3M607.4,536.8l0.8,1.1M605.9,514.4l1.1,2.7M604.9,510.2l1.3,0.2M608.8,521.8l0.7,0.9M607.8,514.8l2.0,0.3M608.7,523.4l-2.0,0.1M604.1,523.4l1.8,0.2M604.2,539.1l-1.7,1.0M604.1,516.8l2.0,1.8M610.0,528.5l-1.8,0.1M609.8,531.4l-2.0,1.5M606.3,513.0l2.2,1.7M604.9,531.5l-1.8,1.3M609.0,527.3l-1.1,2.1M604.4,540.2l-1.1,0.2M607.5,528.6l-2.0,2.0" fill="none" stroke="#1c1c1c" stroke-width="1.3" stroke-linejoin="round" stroke-linecap="round" />
<path d="M607.5,509.3l-1.4,0.0M620.5,512.2l0.3,2.0M607.6,509.1l1.5,0.1M615.0,518.2l0.5,1.1M614.3,514.9l1.2,2.1M617.2,514.8l-2.1,0.7M619.1,515.9l-1.5,0.6M613.8,517.9l2.3,1.0M625.3,512.8l1.1,0.8M617.9,512.9l2.7,0.6M617.4,515.5l1.1,0.9M611.7,511.7l1.0,2.5M614.8,508.2l-1.4,2.6M623.4,510.6l1.6,1.0M610.9,511.5l0.3,1.8M619.3,509.9l1.1,0.3M613.9,516.9l-0.0,2.4M614.5,513.8l-1.2,1.2M615.8,507.1l-0.6,1.9M616.6,508.0l2.0,0.8M616.1,507.6l0.5,2.4M622.3,512.4l0.6,1.6" fill="none" stroke="#1c1c1c" stroke-width="1.2" stroke-linejoin="round" stroke-linecap="round" />
<path d="M604.5,552.2l2.1,1.0M605.7,557.0l1.6,0.2M607.6,553.8l-0.8,0.9M601.6,547.1l-0.0,2.4M606.1,560.1l0.8,2.0M599.8,550.6l-1.1,1.8M601.9,549.0l1.4,1.7M603.4,554.6l1.6,0.1M603.9,552.7l-0.5,1.0M599.0,552.1l-1.0,1.6" fill="none" stroke="#1c1c1c" stroke-width="1.1" stroke-linejoin="round" stroke-linecap="round" />
<path d="M1064.5,721.3 L1074.9,716.3 L1087.2,720.0 L1086.3,732.2 L1083.6,735.9 L1084.5,743.1 L1082.7,759.0 L1072.2,761.3 L1060.4,757.6 L1062.2,741.3 Z" fill="#fff" stroke="#1c1c1c" stroke-width="1.1" stroke-linejoin="round" stroke-linecap="round" />
<path d="M1064.5,721.3 L1077,724.5 L1087,720 M1077,724.5 L1073,761 M1079.3,732 L1076.5,757" fill="none" stroke="#1c1c1c" stroke-width="1.0" stroke-linejoin="round" stroke-linecap="round" />
<path d="M1070.7,750.7l-1.4,1.0M1072.7,757.9l1.2,0.1M1075.4,725.8l0.1,0.9M1069.4,744.1l0.9,0.0M1065.0,757.7l-0.6,0.5M1073.6,726.8l-0.3,0.7M1063.9,729.9l-1.6,0.1M1069.4,748.2l1.4,1.0M1071.9,759.7l-0.9,0.3M1066.4,727.9l0.6,0.3M1065.4,745.2l1.4,0.0M1066.0,733.6l-1.0,0.6M1065.6,740.4l-0.4,0.5M1072.8,754.8l1.5,0.1M1066.5,744.3l0.7,0.0M1063.7,751.3l-1.7,0.4M1066.1,735.4l-0.1,1.5M1062.2,751.0l-1.3,1.0M1070.5,757.7l0.8,1.5M1069.4,733.7l0.4,0.7M1067.1,730.7l-0.5,1.5M1068.0,738.0l1.7,0.3M1074.3,726.5l-1.2,1.3M1070.9,752.6l1.1,0.4M1062.9,754.8l0.7,0.9M1068.5,750.3l0.1,0.9M1067.1,727.1l0.7,1.7M1068.7,734.7l0.9,0.3M1073.4,755.7l0.7,1.4M1073.3,748.9l-0.7,1.3M1066.4,749.3l0.8,0.9M1073.2,748.7l1.0,1.4M1071.2,744.4l1.3,0.0M1064.6,748.0l0.2,1.6M1071.1,753.0l0.6,1.2M1072.6,754.2l0.7,1.4M1069.0,742.3l1.4,0.8M1071.9,749.9l-0.5,0.6M1073.4,744.4l-0.5,1.0M1070.8,752.1l-0.6,1.3M1067.7,747.1l1.1,0.9M1070.9,723.0l0.1,0.9M1065.7,728.5l0.5,0.4M1068.1,736.4l-0.5,1.2M1064.3,757.2l1.1,0.0M1065.0,737.6l1.5,0.6M1066.6,722.7l-0.2,0.7M1069.5,734.8l-0.4,1.7M1074.0,737.9l-1.1,0.8M1066.5,726.9l-0.4,1.2M1070.5,735.2l-0.6,0.2M1062.2,743.8l-0.3,0.7M1070.8,756.7l0.4,1.0M1064.2,732.9l-1.1,0.1M1070.3,731.6l-1.2,0.1M1067.3,734.0l-1.2,0.1M1065.2,740.2l1.2,0.5M1067.8,732.9l-1.2,1.0M1064.9,758.4l-0.7,0.6M1064.8,727.4l-1.0,0.0M1070.5,740.1l-0.6,1.2M1072.7,726.0l-0.7,0.7M1069.3,734.6l0.7,1.0M1068.1,735.6l-0.9,0.9M1068.0,757.7l-1.2,0.4M1067.5,744.2l-0.8,1.1M1068.4,757.5l0.4,1.0M1074.5,729.1l1.0,1.3M1061.5,754.5l-0.6,0.9M1065.2,752.3l-0.7,0.2M1068.3,743.1l0.0,1.0M1062.9,744.6l-0.6,0.4M1064.2,753.8l-1.1,0.8M1072.0,723.2l-0.8,0.4M1071.1,759.1l-0.5,0.6M1065.3,757.7l1.2,0.6M1067.3,727.7l-0.2,0.6M1069.9,750.8l-0.7,0.3M1067.6,733.8l-0.4,1.1M1062.9,746.4l-0.0,1.7M1069.6,745.9l0.9,0.9M1064.6,751.1l-0.0,0.8M1064.3,736.0l-0.6,0.6M1072.2,747.3l1.4,0.4M1070.3,730.8l-1.1,0.4M1065.8,752.9l1.5,0.1M1064.1,725.9l-1.4,0.1M1074.0,726.8l-0.4,0.9M1064.3,734.5l-0.4,1.0M1066.8,726.7l-1.2,0.7M1073.8,738.5l-1.1,0.5M1070.2,744.1l-0.7,0.8M1075.2,740.4l-0.4,0.4M1068.2,756.6l-0.4,1.0M1068.1,725.3l0.7,0.4M1066.6,736.6l-0.7,0.3M1064.6,732.3l0.8,0.5M1064.3,740.4l1.7,0.2M1066.5,758.5l-0.8,1.2M1068.2,758.8l1.3,0.5M1065.2,748.1l-0.5,0.6M1064.2,724.4l0.5,1.7M1066.4,733.7l0.1,0.9M1072.6,749.8l0.8,0.4M1071.6,758.6l-0.5,1.0M1061.4,752.2l0.2,0.6M1069.0,735.2l0.7,0.2M1064.4,723.3l0.2,0.6M1064.6,737.5l0.4,0.5M1063.4,741.5l0.4,1.2M1062.2,742.8l-1.3,0.3M1074.6,729.8l1.2,0.1M1068.5,744.0l0.5,1.2M1072.4,757.5l0.6,0.9M1074.1,730.2l0.9,0.3M1061.9,752.0l-0.8,0.5M1064.5,724.6l0.3,1.3M1064.5,723.7l-0.4,0.5M1063.7,732.7l0.3,0.7M1067.4,733.8l-0.9,0.9M1073.0,744.1l0.3,1.6M1071.3,759.2l-0.9,1.1M1064.8,753.5l0.3,0.7M1064.8,748.1l0.4,0.5M1073.1,743.4l0.7,0.1M1070.6,730.5l0.2,1.0M1065.9,721.8l-0.4,1.5M1072.5,725.1l-0.1,0.8M1072.2,739.0l-1.5,0.3M1067.6,738.8l-1.3,1.1M1069.2,759.8l-0.2,0.7M1073.9,738.0l1.7,0.3M1068.4,756.3l0.3,0.8M1065.0,729.3l-0.2,1.0M1072.9,730.9l0.4,0.8M1074.5,745.8l0.2,0.7M1074.2,740.8l0.8,0.1M1062.0,749.8l-0.8,0.3M1073.6,734.2l-0.9,1.4M1070.7,753.1l0.2,0.6M1068.9,744.6l0.9,0.6M1065.7,722.4l0.6,0.9M1068.3,749.2l0.6,1.7M1071.9,747.9l-0.2,1.5M1066.4,744.9l-0.7,1.0M1065.1,724.4l1.0,0.3M1070.0,751.5l-0.6,0.8M1075.8,732.2l-0.4,0.5M1072.9,747.9l-1.7,0.2M1071.8,754.6l-0.9,1.0" fill="none" stroke="#1c1c1c" stroke-width="0.9" stroke-linejoin="round" stroke-linecap="round" />
<path d="M1079.8,730.7l1.3,0.0M1079.6,751.1l0.5,1.3M1076.8,752.9l-0.7,0.8M1080.5,748.0l0.9,0.7M1084.3,730.9l-1.0,0.7M1084.8,733.8l1.3,0.4M1084.3,738.3l0.8,0.2M1081.9,731.9l-1.2,0.2M1075.8,746.9l0.7,1.4M1082.0,748.6l-1.3,0.9M1081.4,732.5l-0.2,0.7M1074.6,747.2l0.4,0.7M1079.8,725.7l1.2,0.9M1077.7,757.1l-0.3,0.8M1078.3,736.0l1.5,0.6M1083.4,736.3l-0.8,0.1M1082.4,756.5l0.2,1.4M1084.1,741.2l0.1,1.3M1083.5,730.9l0.1,1.4M1078.1,730.5l0.2,1.5M1076.6,736.8l-1.1,0.4M1076.8,739.5l0.1,0.7M1078.3,732.5l-0.8,0.5M1081.4,733.1l0.3,1.0M1074.6,749.5l0.6,1.4M1084.9,722.6l1.3,0.9M1081.6,737.3l-1.1,0.9M1079.9,739.2l0.9,0.3M1075.0,745.6l-0.2,0.7M1081.8,724.0l1.2,0.4M1079.5,756.9l-0.5,1.2M1074.8,754.1l1.2,0.3M1082.7,752.4l1.4,0.6M1083.9,738.3l0.8,1.0M1086.2,723.4l-0.8,0.4M1085.9,721.3l1.4,0.4M1081.9,742.0l0.8,0.1M1083.2,724.7l-0.2,1.1M1075.1,743.3l0.3,0.8M1076.1,743.1l-1.0,0.3M1076.4,743.5l-0.9,0.7M1078.3,738.1l0.5,1.5M1080.7,747.1l-0.8,1.0M1084.3,735.3l-0.8,1.4M1075.3,745.6l0.2,0.6M1074.6,749.2l0.9,0.3M1084.0,729.2l-0.3,1.5M1077.1,739.3l-0.9,1.1M1075.4,747.1l0.7,0.3M1086.8,722.1l-1.3,0.3" fill="none" stroke="#1c1c1c" stroke-width="0.8" stroke-linejoin="round" stroke-linecap="round" />
<path d="M922.5,300.0 L906.2,357.2 L906.2,385.2 L916.3,393.0 L928.6,400.3 L933.1,398.6 L953.3,393.6 L979.1,387.4 L982.4,380.7 L999.8,382.4 L1000.9,380.7 L1016.6,322.4 L1021.7,320.2 L973.5,314.6 L922.5,289.9 Z" fill="#fff" stroke="#1c1c1c" stroke-width="1.1" stroke-linejoin="round" stroke-linecap="round" />
<path d="M924.7,300.0 L908.5,358.3M932.0,302.2 L913.5,367.3M934.2,303.4 L915.7,368.4M942.1,306.7 L924.1,368.4M944.3,307.8 L927.5,367.3M953.3,312.3 L937.0,363.9M956.1,313.5 L943.2,360.5M957.8,314.6 L944.9,362.2M972.3,319.1 L958.9,365.0M970.1,319.1 L957.2,365.0M983.6,320.2 L966.7,377.3M985.8,320.7 L969.0,378.5M989.2,321.3 L973.5,377.3M1000.9,322.4 L984.7,378.5M1014.4,322.4 L998.7,380.7" fill="none" stroke="#1c1c1c" stroke-width="1.05" stroke-linejoin="round" stroke-linecap="round" />
<path d="M923.6,300.0 L907.3,357.7M933.1,302.8 L914.6,367.8M971.2,319.1 L958.0,365.0M1015.5,322.4 L999.8,380.7" fill="none" stroke="#1c1c1c" stroke-width="0.6" stroke-linejoin="round" stroke-linecap="round" />
<path d="M921.9,305.6 L955.5,320.2 L962.3,324.7M972.3,325.2 L990.3,328.0 L1013.8,330.3M937.0,363.9 L958.9,366.1M943.2,360.5 L960.0,363.9M937.6,365.0 L959.5,367.8M957.8,376.2 L966.7,378.5 L984.7,379.0M975.7,344.8 L980.2,345.4M972.3,361.1 L975.7,361.7M989.7,354.9 L992.0,355.2M965.6,325.8 L969.0,326.3" fill="none" stroke="#1c1c1c" stroke-width="1.0" stroke-linejoin="round" stroke-linecap="round" />
<path d="M906.2,357.2 L915.2,368.4 L920.8,378.5 L925.3,367.3 L928.6,366.7M920.8,378.5 L920.8,395.3M915.2,368.4 L915.7,391.9M908.5,362.8 L909.0,386.9M911.3,366.1 L911.8,389.1M912.9,367.3 L913.5,390.2M918.0,374.0 L918.3,393.9M923.0,372.9 L923.2,396.4M925.3,367.3 L925.8,397.5M906.2,385.2 L908.5,386.9 L916.3,393.0M907.3,387.4 L917.4,394.7" fill="none" stroke="#1c1c1c" stroke-width="1.0" stroke-linejoin="round" stroke-linecap="round" />
<path d="M910.1,364.5 L910.5,388.0M914.1,367.8 L914.6,391.0M916.9,371.7 L917.1,393.3M921.9,376.2 L922.1,395.8" fill="none" stroke="#1c1c1c" stroke-width="0.7" stroke-linejoin="round" stroke-linecap="round" />
<path d="M928.6,367.3 L930.9,394.2 L934.2,389.7 L953.3,393.6M930.9,394.2 L928.6,400.3M946.6,380.7 L946.6,388.6 L953.3,393.6 L955.5,378.5M955.5,385.2 L973.5,380.7 L979.1,387.4M955.5,387.4 L975.7,382.4M973.5,380.7 L982.4,380.7M965.6,386.6 L969.5,386.3M933.1,395.3 L934.2,389.7M932.0,369.5 L933.7,390.8" fill="none" stroke="#1c1c1c" stroke-width="1.05" stroke-linejoin="round" stroke-linecap="round" />
<path d="M933.1,371.7 L939.8,377.3 L953.3,380.7 L956.1,377.3M934.2,374.0 L937.6,375.1M944.3,377.3 L948.8,378.5M942.1,365.0 L941.5,374.0M944.3,365.6 L943.8,375.1M953.3,368.4 L952.7,378.5M955.5,368.9 L955.0,377.3M942.1,367.3 L955.5,370.6M948.8,369.5 L949.9,370.6M953.3,370.6 L956.1,371.7" fill="none" stroke="#1c1c1c" stroke-width="1.0" stroke-linejoin="round" stroke-linecap="round" />
<path d="M934.2,389.7 L962.3,405.0" fill="none" stroke="#1c1c1c" stroke-width="1.0" stroke-linejoin="round" stroke-linecap="round" />
<path d="M920.1,291.7 L928.4,289.2 L947.1,294.1 L954.9,291.2 L984.3,295.1 L1017.6,313.7 L1021.6,318.6 L1019.1,322.1 L968.6,315.2 Z" fill="#fff" stroke="#1c1c1c" stroke-width="1.1" stroke-linejoin="round" stroke-linecap="round" />
<path d="M920.1,291.7 L968.6,314.7 L1017.6,317.6M921.1,293.6 L968.6,316.7 L1019.1,320.6M922.5,292.4 L969.1,313.7M968.6,315.2 L1018.6,319.1M969.1,315.9 L1018.8,319.8M996.1,313.7 L1017.6,315.2M995.6,314.5 L1017.2,316.5M984.3,295.1 L1017.6,313.7M1017.6,313.7 L1021.6,318.6 L1019.1,322.1 L1017.2,318.6M994.1,312.7 L997.1,314.2 L995.1,316.7" fill="none" stroke="#1c1c1c" stroke-width="1.1" stroke-linejoin="round" stroke-linecap="round" />
<path d="M947.1,294.1 L947.1,299.0 L968.6,312.7 L986.3,310.8 L988.2,304.9 L954.9,291.2M947.1,296.1 L967.6,308.8 L986.3,307.4M949.0,297.1 L968.6,309.8M950.0,296.1 L970.6,307.8M952.0,295.1 L972.5,306.9M953.9,294.6 L974.5,305.9M958.8,299.0 L980.4,304.9M962.7,302.0 L984.3,304.9M968.6,312.7 L970.6,308.8 L986.3,308.8M971.6,310.8 L974.5,313.7 L977.5,310.8M964.7,312.7 L967.6,310.3M924.5,291.2 L945.1,301.0M926.5,290.2 L947.1,300.0M929.4,290.2 L937.3,293.1 L936.3,296.1M938.2,291.2 L939.2,294.6 L946.1,297.1M942.2,290.2 L951.0,289.2 L954.9,291.2" fill="none" stroke="#1c1c1c" stroke-width="1.0" stroke-linejoin="round" stroke-linecap="round" />
<path d="M948.0,298.0 L968.6,311.3M951.0,295.7 L971.6,307.5M952.9,294.9 L973.5,306.4M933.8,297.1 L954.9,308.8 L962.7,312.7M934.8,299.0 L954.9,310.3" fill="none" stroke="#1c1c1c" stroke-width="0.8" stroke-linejoin="round" stroke-linecap="round" />
<path d="M937.5,284.5 L972.1,268.3 Q977.5,265.7 983.3,264.1 L999.2,259.6 Q1005.0,258.0 1010.8,256.4 L1030.0,251.0" fill="none" stroke="#1c1c1c" stroke-width="10.5" stroke-linejoin="round"/>
<path d="M937.5,284.5 L972.1,268.3 Q977.5,265.7 983.3,264.1 L999.2,259.6 Q1005.0,258.0 1010.8,256.4 L1030.0,251.0" fill="none" stroke="#fff" stroke-width="8.5" stroke-linejoin="round"/>
<path d="M934.3,278.6 L931.9,287.7 L941.2,291.7 L944.1,283.8" fill="#fff" stroke="#1c1c1c" stroke-width="1.1" stroke-linejoin="round" stroke-linecap="round" />
<path d="M941.2,279.4 L939.2,285.3M944.1,277.9 L942.2,284.3M947.1,276.5 L945.3,282.8M950.0,275.3 L948.5,281.4M952.9,274.0 L951.8,279.9" fill="none" stroke="#1c1c1c" stroke-width="0.9" stroke-linejoin="round" stroke-linecap="round" />
<path d="M966.7,272.5 L962.7,294.1 L981.4,294.1 L986.3,273.5" fill="#fff" stroke="#1c1c1c" stroke-width="1.1" stroke-linejoin="round" stroke-linecap="round" />
<path d="M955.9,279.4 L975.5,289.2 L972.5,293.1 L954.9,284.3 Z" fill="#fff" stroke="#1c1c1c" stroke-width="1.1" stroke-linejoin="round" stroke-linecap="round" />
<path d="M956.9,282.4 L973.0,290.7M970.6,286.8 L968.6,291.2M974.5,288.2 L977.5,289.2 L976.5,293.1" fill="none" stroke="#1c1c1c" stroke-width="1.0" stroke-linejoin="round" stroke-linecap="round" />
<path d="M982.4,285.3 L989.2,287.3 L988.2,293.1 L981.4,291.2 Z" fill="#fff" stroke="#1c1c1c" stroke-width="1.2" stroke-linejoin="round" stroke-linecap="round" />
<path d="M983.3,286.8 L987.7,292.2M985.3,286.3 L984.3,291.7" fill="none" stroke="#1c1c1c" stroke-width="1.0" stroke-linejoin="round" stroke-linecap="round" />
<ellipse cx="977.7" cy="271.6" rx="9.9" ry="3.8" fill="#fff" stroke="#1c1c1c" stroke-width="1.0" transform="rotate(8 977.7 271.6)"/>
<path d="M967.6,274.5 L976.5,277.0 L985.3,275.7" fill="none" stroke="#1c1c1c" stroke-width="1.6" stroke-linejoin="round" stroke-linecap="round" />
<path d="M972.5,268.6 L973.0,262.7 L975.5,260.3 L980.4,260.8 L982.4,264.7 L981.9,269.1" fill="#fff" stroke="#1c1c1c" stroke-width="1.2" stroke-linejoin="round" stroke-linecap="round" />
<path d="M973.5,263.7 L981.4,265.7M974.5,261.8 L978.4,264.7 L977.5,268.6M975.5,260.3 L976.5,263.7M973.0,266.2 L981.9,267.6" fill="none" stroke="#1c1c1c" stroke-width="1.1" stroke-linejoin="round" stroke-linecap="round" />
<g transform="translate(833.7 242.8) rotate(15)"><path d="M-13,100 L-12,106 L-9,109.5 L0,111.5 L8,109 L9.5,105 M-12,106 L0,108 L9,105.5 M-6,107.5 l0.5,3.5 M3,108 l0.5,3 M-5,103 l1,4.5 M4,104.5 l0,3.5" fill="none" stroke="#1c1c1c" stroke-width="1.1" stroke-linejoin="round"/><path d="M-25.7,16 L-24.6,96.5 Q-23,100 -10,103 Q0,105.5 12,103.5 Q20,102 23.4,99.8 L25.8,16 Z" fill="#fff" stroke="#1c1c1c" stroke-width="1.1" stroke-linejoin="round"/><path d="M-25.6,17.2 A25.7,7 0 0 0 25.8,17.6" fill="none" stroke="#1c1c1c" stroke-width="1.7" stroke-linejoin="round"/><path d="M-25.5,19 A25.7,7 0 0 0 25.7,19.4" fill="none" stroke="#1c1c1c" stroke-width="0.8" stroke-linejoin="round"/><path d="M19.2,13.8 L19.8,18.2" fill="none" stroke="#1c1c1c" stroke-width="1.6" stroke-linejoin="round"/><path d="M-26.6,6 L-25.7,17.2 A25.7,7 0 0 0 25.8,17.6 L26.5,7 Z" fill="#fff" stroke="#1c1c1c" stroke-width="1.1" stroke-linejoin="round"/><path d="M-27,-5.5 L-26.7,6.6 A26.7,6.9 0 0 0 26.6,7.4 L27,-4.5 Z" fill="#fff" stroke="#1c1c1c" stroke-width="1.2" stroke-linejoin="round"/><path d="M-26.7,6.6 A26.7,6.9 0 0 0 26.6,7.4" fill="none" stroke="#1c1c1c" stroke-width="1.9" stroke-linejoin="round"/><path d="M-26.8,4.6 A26.7,6.9 0 0 0 26.7,5.4" fill="none" stroke="#1c1c1c" stroke-width="0.8" stroke-linejoin="round"/><path d="M-4.5,3.6 L-4.2,8.4 L3,8.9 L3.2,4.2 Z M-2.8,5 l3.8,0.3 l-0.2,2.6 Z" fill="#fff" stroke="#1c1c1c" stroke-width="1.3" stroke-linejoin="round"/><path d="M10,3.6 L10.2,9 L15,8.4 L15,3.2 Z M18.2,1.8 L18.4,7 L25.6,3.6 L26,-1.6 Z M20,2.6 l0.2,3.2 M23,1.2 l0.2,3.2" fill="#fff" stroke="#1c1c1c" stroke-width="1.3" stroke-linejoin="round"/><path d="M-22,0.5 l0.3,4.8 M-19,1.8 l0.3,4.8 M-15.5,3 l0.3,4.8 M-23.5,-1 l-0.5,2 l2.6,4.6" fill="none" stroke="#1c1c1c" stroke-width="1.2" stroke-linejoin="round"/><ellipse cx="0" cy="-5.5" rx="27" ry="9" fill="#fff" stroke="#1c1c1c" stroke-width="1.2"/><path d="M-25.2,-5 A25.2,7.6 0 0 0 25.4,-4.2" fill="none" stroke="#1c1c1c" stroke-width="0.9" stroke-linejoin="round"/><path d="M-22.2,-5.6 L-3.2,-12.4 L-1.6,-10.2 L-7.1,-1.1 L-17.5,-2.4 Z M-20.8,-4.4 L-4,-10.4 M-7.1,-1.1 L21.2,-10.8 L23.6,-7.8 L20,-2.4 L3,3.2 M-5.4,0.4 L22.4,-9.2 M-7.1,-1.1 L-6.4,2.6 M-17.5,-2.4 L-17.2,1" fill="none" stroke="#1c1c1c" stroke-width="1.2" stroke-linejoin="round"/><path d="M-2.6,-6 L-2.6,-12 L-4.8,-14 Q-6.2,-17.5 -5,-21 Q-2,-24.4 3.4,-23.6 Q6.8,-22 6.4,-17 Q5.6,-13.6 2.8,-12 L2.8,-5" fill="#fff" stroke="#1c1c1c" stroke-width="1.2" stroke-linejoin="round"/><path d="M-5.4,-18.4 Q0,-15.6 6.3,-18.6 M-1.6,-21.6 l3.8,-0.3 M-2.6,-12 Q0,-11 2.8,-12 M-2.6,-6 Q0,-5 2.8,-5.4" fill="none" stroke="#1c1c1c" stroke-width="1.0" stroke-linejoin="round"/></g>
<path d="M838.8,285.2 L843.1,280.0 L849.1,280.9 L861.0,286.9 L860.7,290.3 L843.1,310.8 L838.8,309.4M849.1,280.9 L848.2,285.2 L858.5,290.3 L842.2,309.9M852.5,290.3 L841.4,305.7M854.2,291.7 L843.6,306.5M843.1,280.0 L842.2,286.9 L838.8,290.3M838.8,285.2 L845.7,287.7 L848.2,285.2M840.5,290.3 L835.4,319.3M843.1,291.1 L838.0,319.3M830.3,314.2 L838.8,312.5 L838.0,321.0 L829.4,319.3 L830.3,314.2M832.0,315.1 L836.3,320.2M839.7,282.6 L844.8,286.0M840.5,280.9 L841.4,288.6" fill="none" stroke="#1c1c1c" stroke-width="1.1" stroke-linejoin="round" stroke-linecap="round" />
<g transform="translate(994.1 202.2) rotate(13.3)"><path d="M-9.2,0 L-9.6,3 L-13.6,10.5 L-14.2,12 L-14.2,15.5 L-12,18 L-11.8,29 L-11.4,33.5 L-13.2,36 L-13.4,45 A13.4,4.6 0 0 0 13.4,45 L13.2,36 L11.4,33.5 L11.8,29 L12,18 L14.2,15.5 L14.2,12 L13.6,10.5 L9.6,3 L9.2,0 A9.2,3 0 0 0 -9.2,0 Z" fill="#fff" stroke="#1c1c1c" stroke-width="1.2" stroke-linejoin="round"/><path d="M-3.4,-1.5 L-3.2,-10.5 Q1.5,-13 6.4,-10.5 L6.2,-0.5 Z" fill="#fff" stroke="#1c1c1c" stroke-width="1.3" stroke-linejoin="round"/><path d="M-0.8,-10.5 L-1,-1.2 M1.6,-9 L1.4,-0.8 M3.6,-9.2 L3.6,-0.6 M1.6,-9 L6.3,-8.6 M-3.3,-6 L-1,-5.5" fill="none" stroke="#1c1c1c" stroke-width="1.3" stroke-linejoin="round"/><ellipse cx="0" cy="0" rx="9.2" ry="3" fill="#fff" stroke="#1c1c1c" stroke-width="1.2"/><path d="M-9.5,1.8 A9.5,3.2 0 0 0 9.5,1.8" fill="none" stroke="#1c1c1c" stroke-width="1.5" stroke-linejoin="round"/><path d="M-11,5.5 A11,3.4 0 0 0 11,5.5" fill="none" stroke="#1c1c1c" stroke-width="1.1" stroke-linejoin="round"/><path d="M-13.6,10.5 A13.6,3.7 0 0 0 13.6,10.5" fill="none" stroke="#1c1c1c" stroke-width="1.2" stroke-linejoin="round"/><path d="M-14.2,12 A14.2,3.9 0 0 0 14.2,12" fill="none" stroke="#1c1c1c" stroke-width="1.6" stroke-linejoin="round"/><path d="M-14.2,15.5 A14.2,3.9 0 0 0 14.2,15.5" fill="none" stroke="#1c1c1c" stroke-width="1.6" stroke-linejoin="round"/><path d="M-14.2,13.8 A14.2,3.9 0 0 0 14.2,13.8" fill="none" stroke="#1c1c1c" stroke-width="0.9" stroke-linejoin="round"/><path d="M-12,18 A12,3.4 0 0 0 12,18" fill="none" stroke="#1c1c1c" stroke-width="1.3" stroke-linejoin="round"/><path d="M-11.9,20 A11.9,3.4 0 0 0 11.9,20" fill="none" stroke="#1c1c1c" stroke-width="0.9" stroke-linejoin="round"/><path d="M-11.8,27.5 A11.8,3.4 0 0 0 11.8,27.5" fill="none" stroke="#1c1c1c" stroke-width="1.0" stroke-linejoin="round"/><path d="M-11.8,29 A11.8,3.4 0 0 0 11.8,29" fill="none" stroke="#1c1c1c" stroke-width="1.4" stroke-linejoin="round"/><path d="M-11.4,33.5 A11.4,3.3 0 0 0 11.4,33.5" fill="none" stroke="#1c1c1c" stroke-width="1.5" stroke-linejoin="round"/><path d="M-10.5,30.6 l0.3,4.3 M-8.4,31.4 l0.3,4.3 M-6.3,31.9 l0.3,4.3 M-4.2,32.2 l0.3,4.3 M-2.1,32.3 l0.3,4.3 M0.0,32.4 l0.3,4.3 M2.1,32.3 l0.3,4.3 M4.2,32.2 l0.3,4.3 M6.3,31.9 l0.3,4.3 M8.4,31.4 l0.3,4.3 M10.5,30.6 l0.3,4.3 " fill="none" stroke="#1c1c1c" stroke-width="1.2" stroke-linejoin="round"/><path d="M-13.2,36 A13.2,4.2 0 0 0 13.2,36" fill="none" stroke="#1c1c1c" stroke-width="1.5" stroke-linejoin="round"/><path d="M-13.4,38.5 A13.4,4.4 0 0 0 13.4,38.5" fill="none" stroke="#1c1c1c" stroke-width="1.0" stroke-linejoin="round"/><path d="M-13.4,41 A13.4,4.4 0 0 0 13.4,41" fill="none" stroke="#1c1c1c" stroke-width="1.5" stroke-linejoin="round"/><path d="M-13.4,43 A13.4,4.5 0 0 0 13.4,43" fill="none" stroke="#1c1c1c" stroke-width="1.1" stroke-linejoin="round"/><path d="M-13.4,45 A13.4,4.6 0 0 0 13.4,45" fill="none" stroke="#1c1c1c" stroke-width="1.3" stroke-linejoin="round"/><path d="M5,3.5 l4,3 l-1,3 M7,8 l5,2 M3,9.5 l3,-3.5 l4,3.5 M6,17.5 L3,27 M8.5,17 L6,25 L8,28 M10.5,18 l-1.5,8 M4,21 l3,1.5 M-12,7 l3,2 M-10.5,4 l2,2.5 M-4,40.5 l6,1.5 M-9,38.5 l5,2 M3,43.5 l6,-1.2 M-7,44 l5,2" fill="none" stroke="#1c1c1c" stroke-width="1.4" stroke-linejoin="round"/></g>
<path d="M1053.2,206.6 A8.8,10.2 0 1 0 1051.0,220.9" fill="none" stroke="#1c1c1c" stroke-width="1.2"/>
<path d="M1050.8,206.8 A6.2,7.8 0 1 0 1051.5,217.8" fill="none" stroke="#1c1c1c" stroke-width="0.9"/>
<path d="M1047.4,221.8 A7.2,8.6 0 0 0 1053.6,216.1" fill="none" stroke="#888" stroke-width="0.7"/>
<path d="M1037.3,210.2 L1038.5,210.8M1037.7,217.6 L1039.4,217.6M1040.7,221.7 L1042.0,220.4M1046.0,223.2 L1046.6,221.7M1049.0,202.5 L1049.4,204.2M1053.7,205.4 L1052.4,207.0M1042.6,204.6 L1043.9,206.1M1038.5,205.9 L1039.8,207.0" fill="none" stroke="#1c1c1c" stroke-width="1.3" stroke-linejoin="round" stroke-linecap="round" />
<path d="M1023.0,248.3 L1034.7,234.4 L1039.0,235.5 L1048.6,245.1 L1047.5,249.4 L1036.8,257.9 L1028.3,259.5 Z" fill="#fff" stroke="#1c1c1c" stroke-width="1.2" stroke-linejoin="round" stroke-linecap="round" />
<path d="M1026.2,249.4 L1036.8,237.1M1029.4,253.6 L1041.1,239.8M1033.6,256.3 L1045.4,244.0M1034.7,234.4 L1044.3,243.0M1031.5,240.8 L1034.7,241.9 L1033.6,245.1M1036.8,244.0 L1041.1,246.2 L1039.0,249.4M1033.6,248.3 L1036.8,251.5M1039.0,239.8 L1042.2,243.0M1034.7,252.6 L1039.0,253.6" fill="none" stroke="#1c1c1c" stroke-width="1.2" stroke-linejoin="round" stroke-linecap="round" />
<path d="M998.4,257.9 L1000.0,264.3M1002.7,256.3 L1004.8,263.2M1007.0,254.7 L1009.3,262.2M1011.2,253.6 L1013.4,261.1M1015.5,252.4 L1017.8,260.0M1019.8,251.3 L1021.9,259.0M1023.0,249.9 L1025.1,257.9" fill="none" stroke="#1c1c1c" stroke-width="1.1" stroke-linejoin="round" stroke-linecap="round" />
<path d="M997.4,258.4 L1024.0,250.4M999.7,264.8 L1026.2,257.4" fill="none" stroke="#1c1c1c" stroke-width="1.0" stroke-linejoin="round" stroke-linecap="round" />
<path d="M1046.0,233.6 L1053.5,226.7 L1059.3,233.6 L1051.9,240.0 Z" fill="#fff" stroke="#1c1c1c" stroke-width="1.1" stroke-linejoin="round" stroke-linecap="round" />
<path d="M1054.0,226.2 L1063.1,219.2 L1071.6,217.1 L1074.8,218.7 L1079.6,209.6 L1088.7,212.3 L1084.4,224.0 L1080.2,230.4 L1080.2,234.2 L1070.6,235.8 L1065.2,236.8 L1060.9,234.7 L1059.3,233.6" fill="#fff" stroke="#1c1c1c" stroke-width="1.1" stroke-linejoin="round" stroke-linecap="round" />
<path d="M1070.6,230.4 L1080.2,230.4M1074.8,218.7 L1075.9,221.4 L1084.4,224.0M1062.0,220.8 L1060.9,228.3 L1065.2,236.3M1065.2,219.8 L1064.2,224.0 L1067.4,228.3 L1066.3,233.6M1068.4,219.8 L1072.7,223.0 L1070.6,226.2M1063.1,221.9 L1065.2,223.0M1062.0,226.2 L1064.2,227.2M1064.2,230.4 L1066.3,231.5M1069.5,232.6 L1071.1,233.6M1082.3,210.2 L1085.5,211.8" fill="none" stroke="#1c1c1c" stroke-width="1.2" stroke-linejoin="round" stroke-linecap="round" />
<path d="M1080.2,196.3 L1088.2,185.6 L1094.0,180.3 L1099.4,189.9 L1098.3,190.9 L1097.2,204.8 L1090.8,206.4 L1080.2,199.5 Z" fill="#fff" stroke="#1c1c1c" stroke-width="1.1" stroke-linejoin="round" stroke-linecap="round" />
<path d="M1083.4,192.0 L1094.0,198.4M1085.5,188.8 L1097.2,195.2M1088.2,185.6 L1098.3,190.9M1081.2,197.9 L1091.9,204.8M1085.5,195.2 L1088.7,196.3 L1087.6,199.5M1090.8,197.4 L1094.0,199.0 L1093.0,202.7M1093.0,181.3 L1094.0,187.7M1091.4,182.9 L1092.4,186.1M1089.8,192.0 L1093.0,193.1M1095.1,200.6 L1096.7,202.7" fill="none" stroke="#1c1c1c" stroke-width="1.2" stroke-linejoin="round" stroke-linecap="round" />
<path d="M1116.4,162.1 L1120.7,170.1M1118.6,161.6 L1121.8,169.1" fill="none" stroke="#1c1c1c" stroke-width="1.0" stroke-linejoin="round" stroke-linecap="round" />
<path d="M419.0,697.1 L419.0,725.0 L418.4,730.7 L420.4,741.4 L431.7,743.4 L451.1,742.7 L459.1,738.7 L461.8,732.0 L462.4,720.0 L462.4,725.0 L462.4,696.0" fill="#fff" stroke="#3a3a3a" stroke-width="1.0" stroke-linejoin="round" stroke-linecap="round" />
<path d="M424.4,742.7 L433.7,753.4M451.1,742.7 L445.8,753.4M431.7,743.4 L431.7,752.7 L445.8,752.7 L445.8,743.4M435.1,753.4 L435.1,762.1M443.7,753.4 L443.1,762.1M437.7,753.4 L437.7,766.7M441.7,753.4 L441.7,766.7M447.1,744.0 L449.1,745.4 L445.8,752.0M440.4,754.1 L442.4,757.4" fill="none" stroke="#3a3a3a" stroke-width="1.0" stroke-linejoin="round" stroke-linecap="round" />
<path d="M427.1,762.7 L427.1,776.1 L431.1,780.1 L439.1,780.7 L451.1,778.1 L452.4,766.7 L450.4,762.7" fill="#fff" stroke="#1c1c1c" stroke-width="1.1" stroke-linejoin="round" stroke-linecap="round" />
<ellipse cx="439.0784732416922" cy="764.3267049245962" rx="11.2" ry="3.6" fill="#fff" stroke="#1c1c1c" stroke-width="1.1"/>
<ellipse cx="439.0784732416922" cy="764.3267049245962" rx="8" ry="2.3" fill="none" stroke="#1c1c1c" stroke-width="0.9"/>
<path d="M435.1,762.1 L435.1,766.1M443.1,762.1 L443.1,766.1M437.7,761.4 L437.7,766.7M441.7,761.4 L441.7,766.7" fill="none" stroke="#3a3a3a" stroke-width="1.0" stroke-linejoin="round" stroke-linecap="round" />
<path d="M440.4,772.1 L450.4,770.1 L450.4,777.4 L441.7,779.4 Z" fill="none" stroke="#1c1c1c" stroke-width="1.3" stroke-linejoin="round" stroke-linecap="round" />
<path d="M428.4,766.7 L438.4,770.1 L451.8,767.4M438.4,770.1 L439.1,780.7M429.1,774.7 L431.7,778.1" fill="none" stroke="#1c1c1c" stroke-width="1.0" stroke-linejoin="round" stroke-linecap="round" />
<path d="M430.4,780.1 L429.7,789.4 L435.1,793.4M448.4,778.7 L448.4,790.8 L447.1,793.4M435.1,793.4 L437.1,798.8 L435.7,802.8M447.1,792.1 L443.1,797.4 L436.4,800.1M436.4,794.1 L447.1,792.1M432.4,782.7 L435.1,783.4" fill="none" stroke="#3a3a3a" stroke-width="1.0" stroke-linejoin="round" stroke-linecap="round" />
<path d="M409.1,796.1 L429.7,790.1 L435.7,793.4 L435.1,802.8 L413.1,807.4 Z" fill="#fff" stroke="#3a3a3a" stroke-width="1.0" stroke-linejoin="round" stroke-linecap="round" />
<path d="M409.1,796.1 L411.7,801.4 L413.1,807.4M409.5,796.4 L412.4,801.7 L413.5,807.2M419.1,793.4 L420.4,795.4M424.4,792.1 L425.1,793.4M421.7,802.8 L424.4,805.4M427.1,802.1 L428.4,804.1M431.1,792.1 L431.7,801.4" fill="none" stroke="#3a3a3a" stroke-width="0.9" stroke-linejoin="round" stroke-linecap="round" />
<path d="M419.7,728.0 L422.4,726.7 L423.1,733.4 L427.1,736.0 L426.4,740.0 L421.7,741.4 L419.1,740.0M421.1,730.7 L424.4,734.7 L423.7,739.4M422.4,735.4 L425.7,738.0" fill="none" stroke="#1c1c1c" stroke-width="1.2" stroke-linejoin="round" stroke-linecap="round" />
<path d="M397.7,735.8 L415.1,731.8M398.4,736.8 L415.7,732.8" fill="none" stroke="#3a3a3a" stroke-width="0.8" stroke-linejoin="round" stroke-linecap="round" />
<path d="M361.0,739.4 L362.3,744.0 L362.3,748.0 L361.0,754.7" fill="none" stroke="#6e6e6e" stroke-width="1.0" stroke-linejoin="round" stroke-linecap="round" />
<path d="M462.4,696.0 L472.4,696.0 L476.5,697.1 L475.9,717.1 L472.4,718.9 L461.8,718.3" fill="#fff" stroke="#3a3a3a" stroke-width="1.0" stroke-linejoin="round" stroke-linecap="round" />
<path d="M472.4,696.0 L471.8,718.9M462.4,704.2 L468.8,703.0 L472.4,704.2M461.8,708.9 L469.4,715.9M462.4,717.1 L469.4,714.8M462.4,706.5 L469.4,705.4M469.4,703.0 L469.4,715.9" fill="none" stroke="#3a3a3a" stroke-width="1.0" stroke-linejoin="round" stroke-linecap="round" />
<path d="M409.6,672.5 L413.7,667.8 L424.2,663.7 L436.0,661.9 L448.9,661.9 L458.3,663.7 L467.7,669.0 L472.9,673.1 L473.5,680.7 L471.2,690.1 L466.5,693.6 L448.9,697.1 L446.5,701.8 L436.0,702.4 L435.4,694.8 L433.0,694.8 L433.0,700.7 L424.2,699.5 L423.1,690.1 L419.5,684.2 L409.6,676.0 Z" fill="#fff" stroke="#3a3a3a" stroke-width="1.0" stroke-linejoin="round" stroke-linecap="round" />
<path d="M411.3,673.7 L420.7,684.2 L430.1,687.8 L444.2,688.9 L458.3,686.6 L466.5,681.9 L472.4,673.7M410.2,672.7 L412.5,669.2 L417.2,666.6M465.3,684.2 L466.5,692.5M436.0,661.9 L439.5,663.7 L453.6,664.3 L458.3,663.7M448.9,697.1 L448.9,690.1 L465.9,686.6M423.1,690.1 L430.1,691.3 L448.9,690.1M467.7,676.0 L469.4,673.7 L470.6,678.4 L468.2,681.9M446.5,701.8 L447.1,698.9 L464.1,694.8M448.9,692.5 L465.9,688.7" fill="none" stroke="#3a3a3a" stroke-width="1.0" stroke-linejoin="round" stroke-linecap="round" />
<path d="M379.1,690.1 L394.9,680.7 L409.0,676.0 L417.2,679.0 L420.7,685.4 L422.5,701.8 L416.0,704.2 L414.9,706.5 L393.1,711.2 L391.4,708.9 L386.7,707.7 L379.6,699.5 Z" fill="#fff" stroke="#1c1c1c" stroke-width="1.1" stroke-linejoin="round" stroke-linecap="round" />
<path d="M394.9,680.7 L401.9,686.6 L409.0,685.4 L409.0,693.6 L397.2,697.1 L395.5,704.2M382.0,690.1 L390.2,687.8 L396.1,683.1M380.2,691.3 L386.7,696.0 L387.9,707.7M386.7,696.0 L394.9,690.1 L401.9,686.6M397.2,697.1 L420.7,692.5M396.1,700.7 L421.3,696.0M395.5,704.2 L416.0,700.7M393.1,708.9 L415.4,704.2M411.3,684.2 L418.4,683.1 L419.5,688.9 L411.3,690.1M390.2,688.3 L393.7,692.5M392.6,685.4 L399.6,691.3 L406.6,688.9M382.6,692.5 L383.2,699.5 L386.7,701.8M396.7,682.5 L404.3,688.3M409.0,676.0 L410.2,685.4M390.2,697.1 L391.4,707.7M391.4,708.9 L393.7,707.7M412.5,685.4 L413.7,689.5M416.0,684.2 L417.2,688.9" fill="none" stroke="#1c1c1c" stroke-width="1.05" stroke-linejoin="round" stroke-linecap="round" />
<path d="M379.6,700.7 L370.3,703.0 L365.6,706.5 L362.6,718.3M380.2,702.4 L371.4,705.4 L367.3,708.9 L366.7,720.6M379.9,701.6 L370.8,704.2 L366.5,707.7 L364.4,719.4M362.6,718.3 L366.7,720.6M364.4,708.9 L365.6,718.9" fill="none" stroke="#444" stroke-width="0.9" stroke-linejoin="round" stroke-linecap="round" />
<path d="M369.1,702.4 L370.8,706.0 L373.8,705.4" fill="none" stroke="#1c1c1c" stroke-width="1.3" stroke-linejoin="round" stroke-linecap="round" />
<path d="M413.7,642.0 L425.4,637.9 L430.1,653.7 L418.4,653.7" fill="#fff" stroke="#6e6e6e" stroke-width="1.0" stroke-linejoin="round" stroke-linecap="round" />
<path d="M416.0,642.6 L419.0,644.9M419.0,642.0 L420.7,643.8M422.5,640.2 L424.2,642.0M419.0,651.4 L420.7,653.7M423.1,650.2 L425.4,652.6" fill="none" stroke="#6e6e6e" stroke-width="0.9" stroke-linejoin="round" stroke-linecap="round" />
<path d="M436.0,637.3 L445.4,633.8 L447.7,650.2 L436.0,652.6" fill="#fff" stroke="#3a3a3a" stroke-width="1.0" stroke-linejoin="round" stroke-linecap="round" />
<ellipse cx="430.108555333881" cy="644.9260650158432" rx="3.6" ry="7.9" fill="#fff" stroke="#3a3a3a" stroke-width="1.0" transform="rotate(-12 430.108555333881 644.9260650158432)"/>
<ellipse cx="431.75155498180965" cy="644.9260650158432" rx="3.6" ry="7.9" fill="#fff" stroke="#666" stroke-width="0.8" transform="rotate(-12 431.75155498180965 644.9260650158432)"/>
<ellipse cx="433.62926886515663" cy="644.9260650158432" rx="3.6" ry="7.9" fill="#fff" stroke="#3a3a3a" stroke-width="1.0" transform="rotate(-12 433.62926886515663 644.9260650158432)"/>
<path d="M438.9,628.5 L450.1,625.6 L458.3,630.3 L460.0,642.0 L458.3,650.2 L447.7,654.3 L445.4,650.2 L448.3,644.3 L446.0,635.0 Z" fill="#fff" stroke="#1c1c1c" stroke-width="1.1" stroke-linejoin="round" stroke-linecap="round" />
<path d="M450.1,625.6 L448.9,629.1 L446.0,635.0M448.9,629.1 L457.1,632.6 L458.3,630.3M457.1,632.6 L458.9,643.2M448.3,644.3 L450.1,649.0 L458.3,646.7M450.1,649.0 L447.7,654.3M440.7,629.7 L448.9,627.3M444.2,628.5 L444.8,632.6" fill="none" stroke="#1c1c1c" stroke-width="1.05" stroke-linejoin="round" stroke-linecap="round" />
<path d="M465.9,632.6 L467.7,630.3 L482.9,625.6 L485.3,624.4 L488.2,626.1 L488.8,636.1 L487.0,637.3 L484.1,635.5 L469.4,639.6 L466.5,637.9 Z" fill="#fff" stroke="#1c1c1c" stroke-width="1.1" stroke-linejoin="round" stroke-linecap="round" />
<path d="M467.7,630.3 L469.4,634.4 L469.4,639.6M482.9,625.6 L484.1,635.5M485.3,624.4 L487.0,637.3M483.5,625.0 L485.0,635.9M467.1,632.6 L467.9,637.3" fill="none" stroke="#1c1c1c" stroke-width="1.0" stroke-linejoin="round" stroke-linecap="round" />
<path d="M1166.2,164.9 L1165.1,168.7 L1165.5,172.4M1169.6,164.1 L1168.5,168.7 L1169.6,174.7" fill="none" stroke="#1c1c1c" stroke-width="1.1" stroke-linejoin="round" stroke-linecap="round" />
<path d="M1170.4,164.9 L1177.9,167.5 L1183.2,170.2 L1184.3,171.7 L1180.2,179.2 L1176.4,180.3 L1171.9,177.7 L1170.7,171.7 Z" fill="#fff" stroke="#1c1c1c" stroke-width="1.1" stroke-linejoin="round" stroke-linecap="round" />
<path d="M1171.9,170.2 L1173.4,173.2 L1172.6,175.4M1174.9,168.7 L1175.6,171.7M1177.9,168.7 L1179.4,170.9 L1178.7,173.9M1174.9,174.7 L1176.4,177.7M1180.9,170.9 L1181.7,173.2M1171.9,176.2 L1174.9,179.2M1177.9,175.4 L1180.2,179.2M1180.2,177.7 L1180.9,180.7 L1177.1,180.0M1172.6,167.1 L1174.1,169.4M1176.4,173.2 L1177.5,174.3" fill="none" stroke="#1c1c1c" stroke-width="1.3" stroke-linejoin="round" stroke-linecap="round" />
<path d="M1198.3,160.4 L1204.3,156.7 L1210.3,157.0 L1214.5,159.8M1197.1,161.5 L1198.3,160.4" fill="none" stroke="#1c1c1c" stroke-width="1.5" stroke-linejoin="round" stroke-linecap="round" />
<path d="M1180.9,176.2 L1185.4,181.5 L1190.7,181.1 L1194.5,173.2 L1196.8,162.6M1195.2,173.2 L1197.5,163.4" fill="none" stroke="#1c1c1c" stroke-width="1.0" stroke-linejoin="round" stroke-linecap="round" />
<path d="M1226.5,160.7 L1227.1,162.6 L1221.3,169.0 L1219.5,169.4M1224.3,162.6 L1222.8,164.9M1222.4,165.3 L1221.3,167.5" fill="none" stroke="#1c1c1c" stroke-width="1.2" stroke-linejoin="round" stroke-linecap="round" />
<path d="M1224.3,177.0 L1229.2,168.7 L1236.0,164.1 L1240.9,168.7 L1240.5,171.7 L1235.2,179.2 L1228.4,182.6 L1224.3,178.5 Z" fill="#fff" stroke="#1c1c1c" stroke-width="1.0" stroke-linejoin="round" stroke-linecap="round" />
<path d="M1231.8,174.5l-1.4,0.3M1232.7,175.0l1.3,0.8M1234.7,178.8l1.2,0.4M1225.8,179.1l-0.5,0.7M1235.1,175.5l0.7,0.4M1231.6,179.7l-0.1,1.7M1232.6,176.4l0.2,1.2M1237.0,171.5l-1.2,0.6M1239.4,172.8l-1.4,0.1M1225.5,175.8l-0.9,0.8M1237.5,167.4l-0.3,1.4M1227.4,177.7l1.6,0.7M1229.3,180.5l1.1,0.8M1237.1,170.2l0.5,0.7M1225.8,174.9l1.2,1.1M1230.5,172.5l-1.5,0.2M1227.5,181.7l-1.5,0.6M1228.2,177.2l1.4,1.4M1234.2,169.6l1.5,0.9M1233.6,179.9l-0.4,1.1M1239.5,167.9l1.2,0.1M1233.8,166.6l0.9,1.9M1235.8,174.9l0.8,0.4M1232.3,177.6l1.2,1.9M1236.5,177.1l-1.7,1.3M1230.1,176.8l-1.9,0.6M1231.2,178.7l-1.5,0.7M1234.7,171.2l-0.4,1.6M1225.6,175.9l-2.0,0.0M1236.4,171.3l-1.1,1.2M1231.6,179.6l1.8,0.5M1232.3,168.4l-0.9,1.2M1229.3,176.7l0.8,0.6M1231.6,180.6l0.9,1.5M1227.6,172.1l-1.7,1.2M1238.9,171.2l-0.3,1.2M1226.5,173.3l-1.7,1.0M1231.8,169.2l1.1,0.9" fill="none" stroke="#1c1c1c" stroke-width="1.0" stroke-linejoin="round" stroke-linecap="round" />
<path d="M1226.2,177.7 L1236.7,166.4M1228.4,180.7 L1239.0,170.2" fill="none" stroke="#1c1c1c" stroke-width="0.9" stroke-linejoin="round" stroke-linecap="round" />
<circle cx="512.9" cy="606.7" r="0.8" fill="#1c1c1c"/>
<circle cx="512.2" cy="615.6" r="0.8" fill="#1c1c1c"/>
<circle cx="524" cy="599.7" r="0.8" fill="#1c1c1c"/>
<circle cx="687" cy="578.8" r="0.8" fill="#1c1c1c"/>
<circle cx="709.4" cy="679.7" r="0.8" fill="#1c1c1c"/>
<circle cx="713.6" cy="687.7" r="0.8" fill="#1c1c1c"/>
<circle cx="734.4" cy="698.8" r="0.8" fill="#1c1c1c"/>
<circle cx="756.6" cy="715.5" r="0.8" fill="#1c1c1c"/>
<circle cx="748.8" cy="721" r="0.8" fill="#1c1c1c"/>
<circle cx="783.5" cy="754.3" r="0.8" fill="#1c1c1c"/>
<circle cx="847.9" cy="872.9" r="0.8" fill="#1c1c1c"/>
<circle cx="847.9" cy="879.4" r="0.8" fill="#1c1c1c"/>
<circle cx="934.2" cy="853.7" r="0.8" fill="#1c1c1c"/>
<circle cx="998.5" cy="710.6" r="0.8" fill="#1c1c1c"/>
<circle cx="1018" cy="710.6" r="0.8" fill="#1c1c1c"/>
<circle cx="1156.3" cy="826.5" r="0.8" fill="#1c1c1c"/>
<circle cx="1158" cy="832.5" r="0.8" fill="#1c1c1c"/>
<circle cx="1175.8" cy="822.9" r="0.8" fill="#1c1c1c"/>
<circle cx="1219.4" cy="743.2" r="0.8" fill="#1c1c1c"/>
<circle cx="1222.5" cy="731.8" r="0.8" fill="#1c1c1c"/>
<circle cx="1239.8" cy="666" r="0.8" fill="#1c1c1c"/>
<circle cx="1247.9" cy="671.6" r="0.8" fill="#1c1c1c"/>
<circle cx="188" cy="614.1" r="0.7" fill="#555"/>
<circle cx="186.4" cy="621.4" r="0.7" fill="#555"/>
<circle cx="231.1" cy="602.5" r="0.7" fill="#555"/>
<circle cx="251" cy="593.9" r="0.7" fill="#555"/>
<circle cx="284.2" cy="618.1" r="0.7" fill="#555"/>
<circle cx="297.5" cy="648" r="0.7" fill="#555"/>
<circle cx="304.1" cy="720" r="0.7" fill="#555"/>
<circle cx="301.5" cy="720" r="0.7" fill="#555"/>
<circle cx="356" cy="749.5" r="0.7" fill="#555"/>
<path d="M934.6,627.2 Q940.5,629.3 946.2,625.6 M935,629.6 Q941,631.8 946.8,628" fill="none" stroke="#1c1c1c" stroke-width="1.0" stroke-linejoin="round" stroke-linecap="round" />
</svg>
</body></html>
